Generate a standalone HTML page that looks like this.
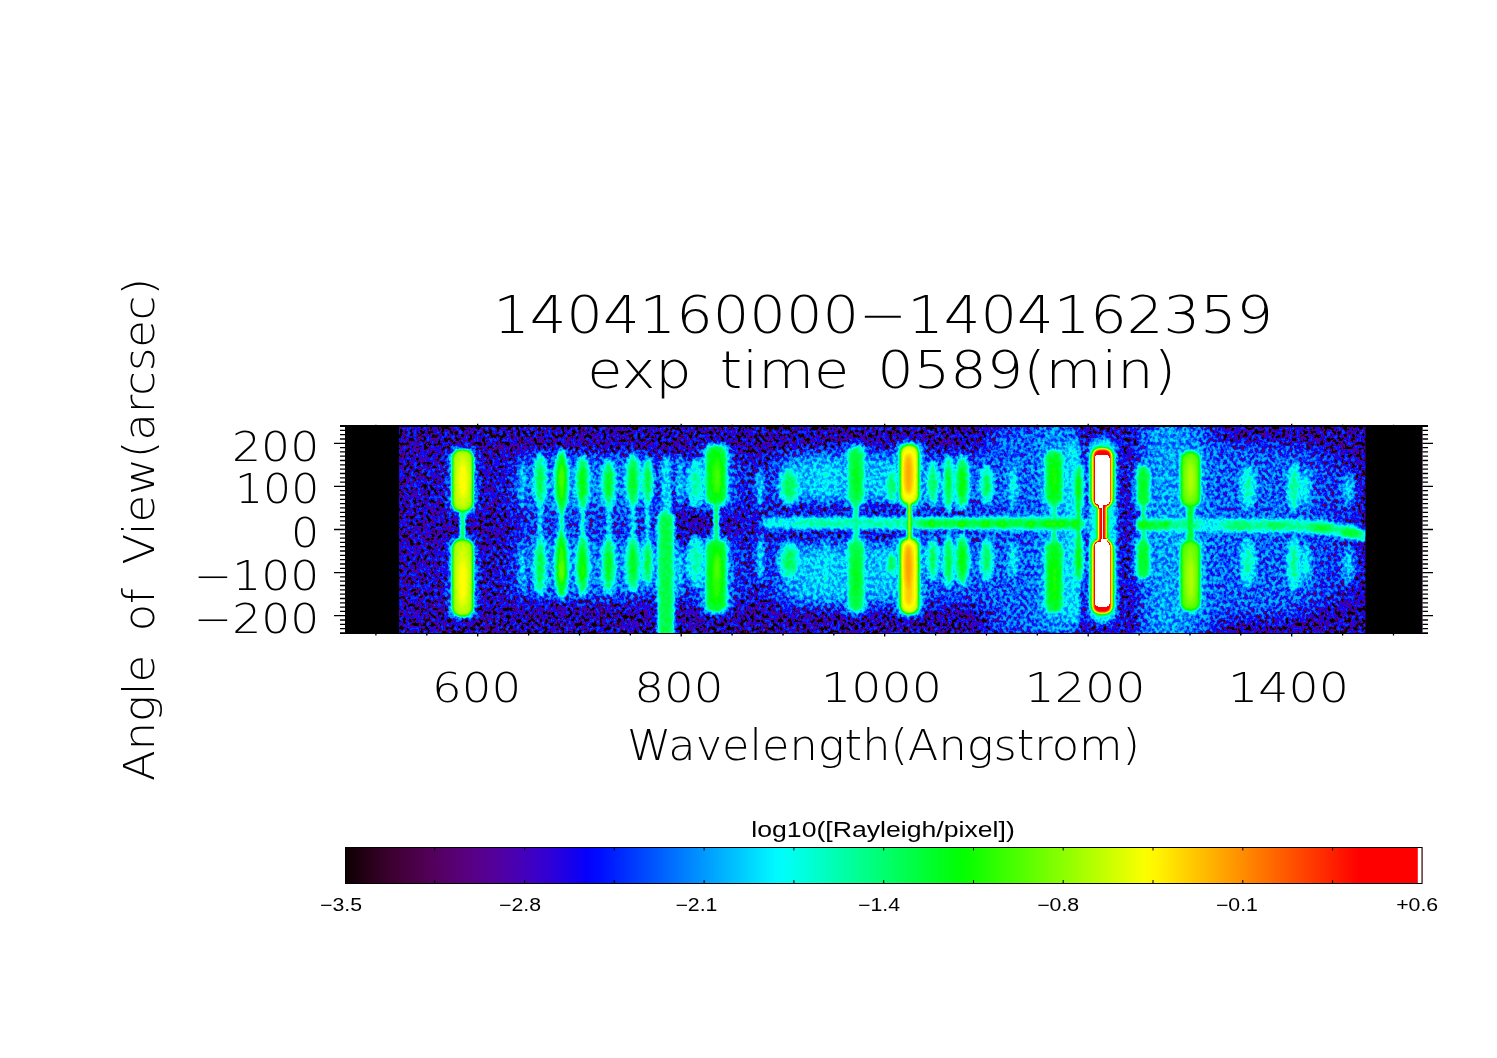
<!DOCTYPE html>
<html lang="en"><head><meta charset="utf-8"><title>1404160000-1404162359</title>
<style>html,body{margin:0;padding:0;background:#fff}svg{display:block}.h{font-family:"DejaVu Sans Light","DejaVu Sans","Liberation Sans",sans-serif;font-weight:200;fill:#000;word-spacing:9px}.s{font-family:"Liberation Sans","DejaVu Sans",sans-serif;fill:#000}</style></head><body>
<svg width="1497" height="1058" viewBox="0 0 1497 1058">
<defs>
<filter id="cm" x="345" y="427" width="1077.5" height="206.3" filterUnits="userSpaceOnUse" color-interpolation-filters="sRGB">
<feTurbulence type="fractalNoise" baseFrequency="0.29 0.26" numOctaves="2" seed="7" result="t"/>
<feColorMatrix in="t" type="matrix" values="3.0 0 0 0 -1.0  3.0 0 0 0 -1.0  3.0 0 0 0 -1.0  0 0 0 0 1" result="n0"/>
<feComponentTransfer in="n0" result="n"><feFuncR type="table" tableValues="0.200 0.250 0.320 0.420 0.520 0.620 0.710 0.790 0.860 0.930 1.000"/><feFuncG type="table" tableValues="0.200 0.250 0.320 0.420 0.520 0.620 0.710 0.790 0.860 0.930 1.000"/><feFuncB type="table" tableValues="0.200 0.250 0.320 0.420 0.520 0.620 0.710 0.790 0.860 0.930 1.000"/></feComponentTransfer>
<feComponentTransfer in="SourceGraphic" result="am"><feFuncR type="table" tableValues="0.3600 0.3574 0.3547 0.3521 0.3494 0.3468 0.3442 0.3416 0.3389 0.3363 0.3337 0.3311 0.3285 0.3259 0.3233 0.3207 0.3181 0.3155 0.3129 0.3103 0.3077 0.3052 0.3026 0.3000 0.2974 0.2949 0.2923 0.2898 0.2872 0.2847 0.2821 0.2796 0.2771 0.2745 0.2720 0.2695 0.2669 0.2644 0.2619 0.2594 0.2569 0.2544 0.2519 0.2494 0.2469 0.2444 0.2420 0.2395 0.2370 0.2346 0.2321 0.2296 0.2272 0.2247 0.2223 0.2198 0.2174 0.2150 0.2125 0.2101 0.2077 0.2053 0.2029 0.2005 0.1981 0.1957 0.1933 0.1909 0.1885 0.1862 0.1838 0.1814 0.1791 0.1767 0.1744 0.1720 0.1697 0.1674 0.1650 0.1627 0.1604 0.1581 0.1558 0.1535 0.1512 0.1489 0.1466 0.1443 0.1421 0.1398 0.1375 0.1353 0.1330 0.1308 0.1286 0.1264 0.1241 0.1219 0.1197 0.1175 0.1153 0.1131 0.1110 0.1088 0.1066 0.1045 0.1023 0.1002 0.0980 0.0959 0.0938 0.0917 0.0896 0.0875 0.0854 0.0833 0.0812 0.0792 0.0771 0.0751 0.0730 0.0710 0.0690 0.0670 0.0650 0.0630 0.0611 0.0591 0.0571 0.0552 0.0533 0.0513 0.0494 0.0475 0.0457 0.0438 0.0419 0.0401 0.0383 0.0364 0.0346 0.0329 0.0311 0.0293 0.0276 0.0259 0.0242 0.0225 0.0209 0.0192 0.0176 0.0160 0.0145 0.0129 0.0114 0.0099 0.0085 0.0071 0.0058 0.0045 0.0032 0.0021 0.0010 0.0001 0.0000 0.0000 0.0000 0.0000 0.0000 0.0000 0.0000 0.0000 0.0000 0.0000 0.0000 0.0000 0.0000 0.0000 0.0000 0.0000 0.0000 0.0000 0.0000 0.0000 0.0000 0.0000 0.0000 0.0000 0.0000 0.0000 0.0000 0.0000 0.0000 0.0000 0.0000 0.0000 0.0000 0.0000 0.0000 0.0000 0.0000 0.0000 0.0000 0.0000 0.0000 0.0000 0.0000 0.0000 0.0000 0.0000 0.0000 0.0000 0.0000 0.0000 0.0000 0.0000 0.0000 0.0000 0.0000 0.0000 0.0000 0.0000 0.0000 0.0000 0.0000 0.0000 0.0000 0.0000 0.0000 0.0000 0.0000 0.0000 0.0000 0.0000 0.0000 0.0000 0.0000 0.0000 0.0000 0.0000 0.0000 0.0000 0.0000 0.0000 0.0000 0.0000 0.0000 0.0000 0.0000 0.0000 0.0000 0.0000 0.0000 0.0000 0.0000 0.0000"/><feFuncG type="table" tableValues="0.3600 0.3574 0.3547 0.3521 0.3494 0.3468 0.3442 0.3416 0.3389 0.3363 0.3337 0.3311 0.3285 0.3259 0.3233 0.3207 0.3181 0.3155 0.3129 0.3103 0.3077 0.3052 0.3026 0.3000 0.2974 0.2949 0.2923 0.2898 0.2872 0.2847 0.2821 0.2796 0.2771 0.2745 0.2720 0.2695 0.2669 0.2644 0.2619 0.2594 0.2569 0.2544 0.2519 0.2494 0.2469 0.2444 0.2420 0.2395 0.2370 0.2346 0.2321 0.2296 0.2272 0.2247 0.2223 0.2198 0.2174 0.2150 0.2125 0.2101 0.2077 0.2053 0.2029 0.2005 0.1981 0.1957 0.1933 0.1909 0.1885 0.1862 0.1838 0.1814 0.1791 0.1767 0.1744 0.1720 0.1697 0.1674 0.1650 0.1627 0.1604 0.1581 0.1558 0.1535 0.1512 0.1489 0.1466 0.1443 0.1421 0.1398 0.1375 0.1353 0.1330 0.1308 0.1286 0.1264 0.1241 0.1219 0.1197 0.1175 0.1153 0.1131 0.1110 0.1088 0.1066 0.1045 0.1023 0.1002 0.0980 0.0959 0.0938 0.0917 0.0896 0.0875 0.0854 0.0833 0.0812 0.0792 0.0771 0.0751 0.0730 0.0710 0.0690 0.0670 0.0650 0.0630 0.0611 0.0591 0.0571 0.0552 0.0533 0.0513 0.0494 0.0475 0.0457 0.0438 0.0419 0.0401 0.0383 0.0364 0.0346 0.0329 0.0311 0.0293 0.0276 0.0259 0.0242 0.0225 0.0209 0.0192 0.0176 0.0160 0.0145 0.0129 0.0114 0.0099 0.0085 0.0071 0.0058 0.0045 0.0032 0.0021 0.0010 0.0001 0.0000 0.0000 0.0000 0.0000 0.0000 0.0000 0.0000 0.0000 0.0000 0.0000 0.0000 0.0000 0.0000 0.0000 0.0000 0.0000 0.0000 0.0000 0.0000 0.0000 0.0000 0.0000 0.0000 0.0000 0.0000 0.0000 0.0000 0.0000 0.0000 0.0000 0.0000 0.0000 0.0000 0.0000 0.0000 0.0000 0.0000 0.0000 0.0000 0.0000 0.0000 0.0000 0.0000 0.0000 0.0000 0.0000 0.0000 0.0000 0.0000 0.0000 0.0000 0.0000 0.0000 0.0000 0.0000 0.0000 0.0000 0.0000 0.0000 0.0000 0.0000 0.0000 0.0000 0.0000 0.0000 0.0000 0.0000 0.0000 0.0000 0.0000 0.0000 0.0000 0.0000 0.0000 0.0000 0.0000 0.0000 0.0000 0.0000 0.0000 0.0000 0.0000 0.0000 0.0000 0.0000 0.0000 0.0000 0.0000 0.0000 0.0000 0.0000 0.0000"/><feFuncB type="table" tableValues="0.3600 0.3574 0.3547 0.3521 0.3494 0.3468 0.3442 0.3416 0.3389 0.3363 0.3337 0.3311 0.3285 0.3259 0.3233 0.3207 0.3181 0.3155 0.3129 0.3103 0.3077 0.3052 0.3026 0.3000 0.2974 0.2949 0.2923 0.2898 0.2872 0.2847 0.2821 0.2796 0.2771 0.2745 0.2720 0.2695 0.2669 0.2644 0.2619 0.2594 0.2569 0.2544 0.2519 0.2494 0.2469 0.2444 0.2420 0.2395 0.2370 0.2346 0.2321 0.2296 0.2272 0.2247 0.2223 0.2198 0.2174 0.2150 0.2125 0.2101 0.2077 0.2053 0.2029 0.2005 0.1981 0.1957 0.1933 0.1909 0.1885 0.1862 0.1838 0.1814 0.1791 0.1767 0.1744 0.1720 0.1697 0.1674 0.1650 0.1627 0.1604 0.1581 0.1558 0.1535 0.1512 0.1489 0.1466 0.1443 0.1421 0.1398 0.1375 0.1353 0.1330 0.1308 0.1286 0.1264 0.1241 0.1219 0.1197 0.1175 0.1153 0.1131 0.1110 0.1088 0.1066 0.1045 0.1023 0.1002 0.0980 0.0959 0.0938 0.0917 0.0896 0.0875 0.0854 0.0833 0.0812 0.0792 0.0771 0.0751 0.0730 0.0710 0.0690 0.0670 0.0650 0.0630 0.0611 0.0591 0.0571 0.0552 0.0533 0.0513 0.0494 0.0475 0.0457 0.0438 0.0419 0.0401 0.0383 0.0364 0.0346 0.0329 0.0311 0.0293 0.0276 0.0259 0.0242 0.0225 0.0209 0.0192 0.0176 0.0160 0.0145 0.0129 0.0114 0.0099 0.0085 0.0071 0.0058 0.0045 0.0032 0.0021 0.0010 0.0001 0.0000 0.0000 0.0000 0.0000 0.0000 0.0000 0.0000 0.0000 0.0000 0.0000 0.0000 0.0000 0.0000 0.0000 0.0000 0.0000 0.0000 0.0000 0.0000 0.0000 0.0000 0.0000 0.0000 0.0000 0.0000 0.0000 0.0000 0.0000 0.0000 0.0000 0.0000 0.0000 0.0000 0.0000 0.0000 0.0000 0.0000 0.0000 0.0000 0.0000 0.0000 0.0000 0.0000 0.0000 0.0000 0.0000 0.0000 0.0000 0.0000 0.0000 0.0000 0.0000 0.0000 0.0000 0.0000 0.0000 0.0000 0.0000 0.0000 0.0000 0.0000 0.0000 0.0000 0.0000 0.0000 0.0000 0.0000 0.0000 0.0000 0.0000 0.0000 0.0000 0.0000 0.0000 0.0000 0.0000 0.0000 0.0000 0.0000 0.0000 0.0000 0.0000 0.0000 0.0000 0.0000 0.0000 0.0000 0.0000 0.0000 0.0000 0.0000 0.0000"/></feComponentTransfer>
<feComponentTransfer in="SourceGraphic" result="ba"><feFuncR type="table" tableValues="0.0000 0.0000 0.0000 0.0000 0.0000 0.0000 0.0000 0.0000 0.0000 0.0000 0.0000 0.0000 0.0000 0.0000 0.0000 0.0000 0.0000 0.0000 0.0000 0.0000 0.0000 0.0000 0.0000 0.0000 0.0000 0.0000 0.0000 0.0000 0.0000 0.0000 0.0000 0.0000 0.0000 0.0000 0.0000 0.0000 0.0000 0.0000 0.0000 0.0000 0.0000 0.0031 0.0085 0.0140 0.0195 0.0249 0.0304 0.0358 0.0413 0.0467 0.0522 0.0576 0.0631 0.0685 0.0739 0.0794 0.0848 0.0902 0.0957 0.1011 0.1065 0.1119 0.1173 0.1228 0.1282 0.1336 0.1390 0.1444 0.1498 0.1552 0.1606 0.1659 0.1713 0.1767 0.1821 0.1875 0.1928 0.1982 0.2036 0.2089 0.2143 0.2196 0.2250 0.2303 0.2357 0.2410 0.2464 0.2517 0.2570 0.2623 0.2677 0.2730 0.2783 0.2836 0.2889 0.2942 0.2995 0.3048 0.3101 0.3154 0.3207 0.3259 0.3312 0.3365 0.3417 0.3470 0.3523 0.3575 0.3627 0.3680 0.3732 0.3785 0.3837 0.3889 0.3941 0.3993 0.4045 0.4097 0.4149 0.4201 0.4253 0.4305 0.4356 0.4408 0.4460 0.4511 0.4563 0.4614 0.4665 0.4717 0.4768 0.4819 0.4870 0.4921 0.4972 0.5023 0.5073 0.5124 0.5175 0.5225 0.5275 0.5326 0.5376 0.5426 0.5476 0.5526 0.5575 0.5625 0.5675 0.5724 0.5773 0.5822 0.5871 0.5920 0.5968 0.6017 0.6065 0.6113 0.6160 0.6208 0.6255 0.6301 0.6347 0.6391 0.6431 0.6471 0.6510 0.6549 0.6588 0.6627 0.6667 0.6706 0.6745 0.6784 0.6824 0.6863 0.6902 0.6941 0.6980 0.7020 0.7059 0.7098 0.7137 0.7176 0.7216 0.7255 0.7294 0.7333 0.7373 0.7412 0.7451 0.7490 0.7529 0.7569 0.7608 0.7647 0.7686 0.7725 0.7765 0.7804 0.7843 0.7882 0.7922 0.7961 0.8000 0.8039 0.8078 0.8118 0.8157 0.8196 0.8235 0.8275 0.8314 0.8353 0.8392 0.8431 0.8471 0.8510 0.8549 0.8588 0.8627 0.8667 0.8706 0.8745 0.8784 0.8824 0.8863 0.8902 0.8941 0.8980 0.9020 0.9059 0.9098 0.9137 0.9176 0.9216 0.9255 0.9294 0.9333 0.9373 0.9412 0.9451 0.9490 0.9529 0.9569 0.9608 0.9647 0.9686 0.9725 0.9765 0.9804 0.9843 0.9882 0.9922 0.9961 1.0000"/><feFuncG type="table" tableValues="0.0000 0.0000 0.0000 0.0000 0.0000 0.0000 0.0000 0.0000 0.0000 0.0000 0.0000 0.0000 0.0000 0.0000 0.0000 0.0000 0.0000 0.0000 0.0000 0.0000 0.0000 0.0000 0.0000 0.0000 0.0000 0.0000 0.0000 0.0000 0.0000 0.0000 0.0000 0.0000 0.0000 0.0000 0.0000 0.0000 0.0000 0.0000 0.0000 0.0000 0.0000 0.0031 0.0085 0.0140 0.0195 0.0249 0.0304 0.0358 0.0413 0.0467 0.0522 0.0576 0.0631 0.0685 0.0739 0.0794 0.0848 0.0902 0.0957 0.1011 0.1065 0.1119 0.1173 0.1228 0.1282 0.1336 0.1390 0.1444 0.1498 0.1552 0.1606 0.1659 0.1713 0.1767 0.1821 0.1875 0.1928 0.1982 0.2036 0.2089 0.2143 0.2196 0.2250 0.2303 0.2357 0.2410 0.2464 0.2517 0.2570 0.2623 0.2677 0.2730 0.2783 0.2836 0.2889 0.2942 0.2995 0.3048 0.3101 0.3154 0.3207 0.3259 0.3312 0.3365 0.3417 0.3470 0.3523 0.3575 0.3627 0.3680 0.3732 0.3785 0.3837 0.3889 0.3941 0.3993 0.4045 0.4097 0.4149 0.4201 0.4253 0.4305 0.4356 0.4408 0.4460 0.4511 0.4563 0.4614 0.4665 0.4717 0.4768 0.4819 0.4870 0.4921 0.4972 0.5023 0.5073 0.5124 0.5175 0.5225 0.5275 0.5326 0.5376 0.5426 0.5476 0.5526 0.5575 0.5625 0.5675 0.5724 0.5773 0.5822 0.5871 0.5920 0.5968 0.6017 0.6065 0.6113 0.6160 0.6208 0.6255 0.6301 0.6347 0.6391 0.6431 0.6471 0.6510 0.6549 0.6588 0.6627 0.6667 0.6706 0.6745 0.6784 0.6824 0.6863 0.6902 0.6941 0.6980 0.7020 0.7059 0.7098 0.7137 0.7176 0.7216 0.7255 0.7294 0.7333 0.7373 0.7412 0.7451 0.7490 0.7529 0.7569 0.7608 0.7647 0.7686 0.7725 0.7765 0.7804 0.7843 0.7882 0.7922 0.7961 0.8000 0.8039 0.8078 0.8118 0.8157 0.8196 0.8235 0.8275 0.8314 0.8353 0.8392 0.8431 0.8471 0.8510 0.8549 0.8588 0.8627 0.8667 0.8706 0.8745 0.8784 0.8824 0.8863 0.8902 0.8941 0.8980 0.9020 0.9059 0.9098 0.9137 0.9176 0.9216 0.9255 0.9294 0.9333 0.9373 0.9412 0.9451 0.9490 0.9529 0.9569 0.9608 0.9647 0.9686 0.9725 0.9765 0.9804 0.9843 0.9882 0.9922 0.9961 1.0000"/><feFuncB type="table" tableValues="0.0000 0.0000 0.0000 0.0000 0.0000 0.0000 0.0000 0.0000 0.0000 0.0000 0.0000 0.0000 0.0000 0.0000 0.0000 0.0000 0.0000 0.0000 0.0000 0.0000 0.0000 0.0000 0.0000 0.0000 0.0000 0.0000 0.0000 0.0000 0.0000 0.0000 0.0000 0.0000 0.0000 0.0000 0.0000 0.0000 0.0000 0.0000 0.0000 0.0000 0.0000 0.0031 0.0085 0.0140 0.0195 0.0249 0.0304 0.0358 0.0413 0.0467 0.0522 0.0576 0.0631 0.0685 0.0739 0.0794 0.0848 0.0902 0.0957 0.1011 0.1065 0.1119 0.1173 0.1228 0.1282 0.1336 0.1390 0.1444 0.1498 0.1552 0.1606 0.1659 0.1713 0.1767 0.1821 0.1875 0.1928 0.1982 0.2036 0.2089 0.2143 0.2196 0.2250 0.2303 0.2357 0.2410 0.2464 0.2517 0.2570 0.2623 0.2677 0.2730 0.2783 0.2836 0.2889 0.2942 0.2995 0.3048 0.3101 0.3154 0.3207 0.3259 0.3312 0.3365 0.3417 0.3470 0.3523 0.3575 0.3627 0.3680 0.3732 0.3785 0.3837 0.3889 0.3941 0.3993 0.4045 0.4097 0.4149 0.4201 0.4253 0.4305 0.4356 0.4408 0.4460 0.4511 0.4563 0.4614 0.4665 0.4717 0.4768 0.4819 0.4870 0.4921 0.4972 0.5023 0.5073 0.5124 0.5175 0.5225 0.5275 0.5326 0.5376 0.5426 0.5476 0.5526 0.5575 0.5625 0.5675 0.5724 0.5773 0.5822 0.5871 0.5920 0.5968 0.6017 0.6065 0.6113 0.6160 0.6208 0.6255 0.6301 0.6347 0.6391 0.6431 0.6471 0.6510 0.6549 0.6588 0.6627 0.6667 0.6706 0.6745 0.6784 0.6824 0.6863 0.6902 0.6941 0.6980 0.7020 0.7059 0.7098 0.7137 0.7176 0.7216 0.7255 0.7294 0.7333 0.7373 0.7412 0.7451 0.7490 0.7529 0.7569 0.7608 0.7647 0.7686 0.7725 0.7765 0.7804 0.7843 0.7882 0.7922 0.7961 0.8000 0.8039 0.8078 0.8118 0.8157 0.8196 0.8235 0.8275 0.8314 0.8353 0.8392 0.8431 0.8471 0.8510 0.8549 0.8588 0.8627 0.8667 0.8706 0.8745 0.8784 0.8824 0.8863 0.8902 0.8941 0.8980 0.9020 0.9059 0.9098 0.9137 0.9176 0.9216 0.9255 0.9294 0.9333 0.9373 0.9412 0.9451 0.9490 0.9529 0.9569 0.9608 0.9647 0.9686 0.9725 0.9765 0.9804 0.9843 0.9882 0.9922 0.9961 1.0000"/></feComponentTransfer>
<feComponentTransfer in="SourceGraphic" result="zb"><feFuncR type="table" tableValues="0.0000 0.0000 0.0000 0.0000 0.0000 0.0000 0.0000 0.0000 0.0000 0.0000 0.0000 0.0000 0.0000 0.0000 0.0000 0.0000 0.0000 0.0000 0.0000 0.0000 0.0000 0.0000 0.0000 0.0000 0.0000 0.0000 0.0000 0.0000 0.0000 0.0000 0.0000 0.0090 0.0179 0.0269 0.0359 0.0448 0.0538 0.0628 0.0717 0.0807 0.0897 0.0986 0.1076 0.1166 0.1255 0.1345 0.1434 0.1524 0.1614 0.1703 0.1793 0.1883 0.1972 0.2062 0.2152 0.2241 0.2331 0.2421 0.2510 0.2600 0.2690 0.2779 0.2869 0.2959 0.3048 0.3138 0.3228 0.3317 0.3407 0.3497 0.3586 0.3676 0.3766 0.3855 0.3945 0.4034 0.4124 0.4214 0.4303 0.4393 0.4483 0.4572 0.4662 0.4752 0.4841 0.4931 0.5021 0.5110 0.5200 0.5200 0.5200 0.5200 0.5200 0.5200 0.5200 0.5200 0.5200 0.5200 0.5200 0.5200 0.5200 0.5200 0.5200 0.5200 0.5200 0.5200 0.5200 0.5200 0.5200 0.5200 0.5200 0.5200 0.5200 0.5200 0.5200 0.5200 0.5200 0.5200 0.5200 0.5200 0.5200 0.5200 0.5200 0.5200 0.5200 0.5200 0.5200 0.5200 0.5200 0.5200 0.5200 0.5200 0.5200 0.5200 0.5200 0.5200 0.5200 0.5200 0.5200 0.5200 0.5200 0.5200 0.5200 0.5200 0.5200 0.5200 0.5200 0.5200 0.5200 0.5200 0.5200 0.5200 0.5200 0.5200 0.5200 0.5200 0.5200 0.5200 0.5200 0.5200 0.5200 0.5200 0.5200 0.5200 0.5200 0.5200 0.5200 0.5200 0.5200 0.5200 0.5200 0.5200 0.5200 0.5200 0.5200 0.5200 0.5200 0.5200 0.5200 0.5200 0.5200 0.5200 0.5200 0.5200 0.5200 0.5200 0.5200 0.5200 0.5200 0.5200 0.5200 0.5200 0.5200 0.5200 0.5200 0.5200 0.5200 0.5200 0.5200 0.5200 0.5200 0.5200 0.5200 0.5200 0.5200 0.5200 0.5200 0.5200 0.5200 0.5200 0.5200 0.5200 0.5200 0.5200 0.5200 0.5200 0.5200 0.5200 0.5200 0.5200 0.5200 0.5200 0.5200 0.5200 0.5200 0.5200 0.5200 0.5200 0.5200 0.5200 0.5200 0.5200 0.5200 0.5200 0.5200 0.5200 0.5200 0.5200 0.5200 0.5200 0.5200 0.5200 0.5200 0.5200 0.5200 0.5200 0.5200 0.5200 0.5200 0.5200 0.5200 0.5200 0.5200 0.5200 0.5200 0.5200"/><feFuncG type="table" tableValues="0.0000 0.0000 0.0000 0.0000 0.0000 0.0000 0.0000 0.0000 0.0000 0.0000 0.0000 0.0000 0.0000 0.0000 0.0000 0.0000 0.0000 0.0000 0.0000 0.0000 0.0000 0.0000 0.0000 0.0000 0.0000 0.0000 0.0000 0.0000 0.0000 0.0000 0.0000 0.0090 0.0179 0.0269 0.0359 0.0448 0.0538 0.0628 0.0717 0.0807 0.0897 0.0986 0.1076 0.1166 0.1255 0.1345 0.1434 0.1524 0.1614 0.1703 0.1793 0.1883 0.1972 0.2062 0.2152 0.2241 0.2331 0.2421 0.2510 0.2600 0.2690 0.2779 0.2869 0.2959 0.3048 0.3138 0.3228 0.3317 0.3407 0.3497 0.3586 0.3676 0.3766 0.3855 0.3945 0.4034 0.4124 0.4214 0.4303 0.4393 0.4483 0.4572 0.4662 0.4752 0.4841 0.4931 0.5021 0.5110 0.5200 0.5200 0.5200 0.5200 0.5200 0.5200 0.5200 0.5200 0.5200 0.5200 0.5200 0.5200 0.5200 0.5200 0.5200 0.5200 0.5200 0.5200 0.5200 0.5200 0.5200 0.5200 0.5200 0.5200 0.5200 0.5200 0.5200 0.5200 0.5200 0.5200 0.5200 0.5200 0.5200 0.5200 0.5200 0.5200 0.5200 0.5200 0.5200 0.5200 0.5200 0.5200 0.5200 0.5200 0.5200 0.5200 0.5200 0.5200 0.5200 0.5200 0.5200 0.5200 0.5200 0.5200 0.5200 0.5200 0.5200 0.5200 0.5200 0.5200 0.5200 0.5200 0.5200 0.5200 0.5200 0.5200 0.5200 0.5200 0.5200 0.5200 0.5200 0.5200 0.5200 0.5200 0.5200 0.5200 0.5200 0.5200 0.5200 0.5200 0.5200 0.5200 0.5200 0.5200 0.5200 0.5200 0.5200 0.5200 0.5200 0.5200 0.5200 0.5200 0.5200 0.5200 0.5200 0.5200 0.5200 0.5200 0.5200 0.5200 0.5200 0.5200 0.5200 0.5200 0.5200 0.5200 0.5200 0.5200 0.5200 0.5200 0.5200 0.5200 0.5200 0.5200 0.5200 0.5200 0.5200 0.5200 0.5200 0.5200 0.5200 0.5200 0.5200 0.5200 0.5200 0.5200 0.5200 0.5200 0.5200 0.5200 0.5200 0.5200 0.5200 0.5200 0.5200 0.5200 0.5200 0.5200 0.5200 0.5200 0.5200 0.5200 0.5200 0.5200 0.5200 0.5200 0.5200 0.5200 0.5200 0.5200 0.5200 0.5200 0.5200 0.5200 0.5200 0.5200 0.5200 0.5200 0.5200 0.5200 0.5200 0.5200 0.5200 0.5200 0.5200 0.5200 0.5200 0.5200"/><feFuncB type="table" tableValues="0.0000 0.0000 0.0000 0.0000 0.0000 0.0000 0.0000 0.0000 0.0000 0.0000 0.0000 0.0000 0.0000 0.0000 0.0000 0.0000 0.0000 0.0000 0.0000 0.0000 0.0000 0.0000 0.0000 0.0000 0.0000 0.0000 0.0000 0.0000 0.0000 0.0000 0.0000 0.0090 0.0179 0.0269 0.0359 0.0448 0.0538 0.0628 0.0717 0.0807 0.0897 0.0986 0.1076 0.1166 0.1255 0.1345 0.1434 0.1524 0.1614 0.1703 0.1793 0.1883 0.1972 0.2062 0.2152 0.2241 0.2331 0.2421 0.2510 0.2600 0.2690 0.2779 0.2869 0.2959 0.3048 0.3138 0.3228 0.3317 0.3407 0.3497 0.3586 0.3676 0.3766 0.3855 0.3945 0.4034 0.4124 0.4214 0.4303 0.4393 0.4483 0.4572 0.4662 0.4752 0.4841 0.4931 0.5021 0.5110 0.5200 0.5200 0.5200 0.5200 0.5200 0.5200 0.5200 0.5200 0.5200 0.5200 0.5200 0.5200 0.5200 0.5200 0.5200 0.5200 0.5200 0.5200 0.5200 0.5200 0.5200 0.5200 0.5200 0.5200 0.5200 0.5200 0.5200 0.5200 0.5200 0.5200 0.5200 0.5200 0.5200 0.5200 0.5200 0.5200 0.5200 0.5200 0.5200 0.5200 0.5200 0.5200 0.5200 0.5200 0.5200 0.5200 0.5200 0.5200 0.5200 0.5200 0.5200 0.5200 0.5200 0.5200 0.5200 0.5200 0.5200 0.5200 0.5200 0.5200 0.5200 0.5200 0.5200 0.5200 0.5200 0.5200 0.5200 0.5200 0.5200 0.5200 0.5200 0.5200 0.5200 0.5200 0.5200 0.5200 0.5200 0.5200 0.5200 0.5200 0.5200 0.5200 0.5200 0.5200 0.5200 0.5200 0.5200 0.5200 0.5200 0.5200 0.5200 0.5200 0.5200 0.5200 0.5200 0.5200 0.5200 0.5200 0.5200 0.5200 0.5200 0.5200 0.5200 0.5200 0.5200 0.5200 0.5200 0.5200 0.5200 0.5200 0.5200 0.5200 0.5200 0.5200 0.5200 0.5200 0.5200 0.5200 0.5200 0.5200 0.5200 0.5200 0.5200 0.5200 0.5200 0.5200 0.5200 0.5200 0.5200 0.5200 0.5200 0.5200 0.5200 0.5200 0.5200 0.5200 0.5200 0.5200 0.5200 0.5200 0.5200 0.5200 0.5200 0.5200 0.5200 0.5200 0.5200 0.5200 0.5200 0.5200 0.5200 0.5200 0.5200 0.5200 0.5200 0.5200 0.5200 0.5200 0.5200 0.5200 0.5200 0.5200 0.5200 0.5200 0.5200 0.5200 0.5200 0.5200"/></feComponentTransfer>
<feComposite in="n0" in2="zb" operator="arithmetic" k1="0" k2="1" k3="1" k4="0" result="zs"/>
<feComponentTransfer in="zs" result="mk"><feFuncR type="table" tableValues="0.000 0.000 0.000 0.000 0.000 0.000 0.000 0.000 0.000 0.000 0.042 0.146 0.250 0.354 0.458 0.563 0.667 0.771 0.875 0.979 1.000 1.000 1.000 1.000 1.000 1.000 1.000 1.000 1.000 1.000 1.000 1.000 1.000 1.000 1.000 1.000 1.000 1.000 1.000 1.000 1.000"/><feFuncG type="table" tableValues="0.000 0.000 0.000 0.000 0.000 0.000 0.000 0.000 0.000 0.000 0.042 0.146 0.250 0.354 0.458 0.563 0.667 0.771 0.875 0.979 1.000 1.000 1.000 1.000 1.000 1.000 1.000 1.000 1.000 1.000 1.000 1.000 1.000 1.000 1.000 1.000 1.000 1.000 1.000 1.000 1.000"/><feFuncB type="table" tableValues="0.000 0.000 0.000 0.000 0.000 0.000 0.000 0.000 0.000 0.000 0.042 0.146 0.250 0.354 0.458 0.563 0.667 0.771 0.875 0.979 1.000 1.000 1.000 1.000 1.000 1.000 1.000 1.000 1.000 1.000 1.000 1.000 1.000 1.000 1.000 1.000 1.000 1.000 1.000 1.000 1.000"/></feComponentTransfer>
<feComposite in="am" in2="n" operator="arithmetic" k1="1" k2="0" k3="0" k4="0" result="p"/>
<feComposite in="ba" in2="p" operator="arithmetic" k1="0" k2="1" k3="1" k4="0" result="v0"/>
<feComposite in="v0" in2="mk" operator="arithmetic" k1="1" k2="0" k3="0" k4="0" result="v"/>
<feComponentTransfer in="v">
<feFuncR type="table" tableValues="0.043 0.067 0.086 0.106 0.125 0.141 0.161 0.176 0.192 0.208 0.220 0.235 0.247 0.259 0.271 0.278 0.290 0.298 0.306 0.314 0.322 0.325 0.329 0.337 0.337 0.341 0.345 0.345 0.345 0.345 0.345 0.341 0.337 0.337 0.329 0.325 0.322 0.314 0.306 0.298 0.290 0.278 0.271 0.259 0.247 0.235 0.220 0.208 0.192 0.176 0.161 0.141 0.125 0.106 0.086 0.067 0.043 0.024 0.000 0.000 0.000 0.000 0.000 0.000 0.000 0.000 0.000 0.000 0.000 0.000 0.000 0.000 0.000 0.000 0.000 0.000 0.000 0.000 0.000 0.000 0.000 0.000 0.000 0.000 0.000 0.000 0.000 0.000 0.000 0.000 0.000 0.000 0.000 0.000 0.000 0.000 0.000 0.000 0.000 0.000 0.000 0.000 0.000 0.000 0.000 0.000 0.000 0.000 0.000 0.000 0.000 0.000 0.000 0.000 0.000 0.000 0.000 0.000 0.000 0.000 0.000 0.000 0.000 0.000 0.000 0.000 0.000 0.000 0.000 0.000 0.000 0.000 0.000 0.000 0.000 0.000 0.000 0.000 0.000 0.000 0.000 0.000 0.000 0.000 0.000 0.000 0.000 0.024 0.047 0.067 0.090 0.114 0.137 0.161 0.180 0.204 0.227 0.251 0.275 0.294 0.318 0.341 0.365 0.388 0.408 0.431 0.455 0.478 0.502 0.522 0.545 0.569 0.592 0.612 0.635 0.659 0.682 0.706 0.725 0.749 0.773 0.796 0.820 0.839 0.863 0.886 0.910 0.933 0.953 0.976 1.000 1.000 1.000 1.000 1.000 1.000 1.000 1.000 1.000 1.000 1.000 1.000 1.000 1.000 1.000 1.000 1.000 1.000 1.000 1.000 1.000 1.000 1.000 1.000 1.000 1.000 1.000 1.000 1.000 1.000 1.000 1.000 1.000 1.000 1.000 1.000 1.000 1.000 1.000 1.000 1.000 1.000 1.000 1.000 1.000 1.000 1.000 1.000 1.000 1.000 1.000 1.000 1.000 1.000 1.000 1.000 1.000 1.000 1.000 1.000 1.000 1.000 1.000 1.000 1.000 1.000"/>
<feFuncG type="table" tableValues="0.000 0.000 0.000 0.000 0.000 0.000 0.000 0.000 0.000 0.000 0.000 0.000 0.000 0.000 0.000 0.000 0.000 0.000 0.000 0.000 0.000 0.000 0.000 0.000 0.000 0.000 0.000 0.000 0.000 0.000 0.000 0.000 0.000 0.000 0.000 0.000 0.000 0.000 0.000 0.000 0.000 0.000 0.000 0.000 0.000 0.000 0.000 0.000 0.000 0.000 0.000 0.000 0.000 0.000 0.000 0.000 0.000 0.000 0.000 0.024 0.043 0.067 0.090 0.110 0.133 0.157 0.176 0.200 0.224 0.243 0.267 0.290 0.310 0.333 0.357 0.376 0.400 0.424 0.443 0.467 0.490 0.510 0.533 0.557 0.576 0.600 0.624 0.643 0.667 0.690 0.710 0.733 0.757 0.776 0.800 0.824 0.843 0.867 0.890 0.910 0.933 0.957 0.976 1.000 1.000 1.000 1.000 1.000 1.000 1.000 1.000 1.000 1.000 1.000 1.000 1.000 1.000 1.000 1.000 1.000 1.000 1.000 1.000 1.000 1.000 1.000 1.000 1.000 1.000 1.000 1.000 1.000 1.000 1.000 1.000 1.000 1.000 1.000 1.000 1.000 1.000 1.000 1.000 1.000 1.000 1.000 1.000 1.000 1.000 1.000 1.000 1.000 1.000 1.000 1.000 1.000 1.000 1.000 1.000 1.000 1.000 1.000 1.000 1.000 1.000 1.000 1.000 1.000 1.000 1.000 1.000 1.000 1.000 1.000 1.000 1.000 1.000 1.000 1.000 1.000 1.000 1.000 1.000 1.000 1.000 1.000 1.000 1.000 1.000 1.000 1.000 0.980 0.961 0.941 0.922 0.902 0.878 0.859 0.839 0.820 0.800 0.780 0.761 0.741 0.722 0.698 0.678 0.659 0.639 0.620 0.600 0.580 0.561 0.541 0.522 0.502 0.478 0.459 0.439 0.420 0.400 0.380 0.361 0.341 0.322 0.298 0.278 0.259 0.239 0.220 0.200 0.180 0.161 0.141 0.122 0.102 0.078 0.059 0.039 0.020 0.000 0.000 0.000 0.000 0.000 0.000 0.000 0.000 0.000 0.000 0.000 0.000 0.000 0.000 0.000 1.000"/>
<feFuncB type="table" tableValues="0.000 0.016 0.035 0.051 0.071 0.086 0.102 0.122 0.137 0.157 0.173 0.188 0.208 0.224 0.243 0.259 0.275 0.294 0.310 0.329 0.345 0.361 0.380 0.396 0.416 0.431 0.447 0.467 0.482 0.502 0.518 0.533 0.553 0.569 0.584 0.604 0.620 0.639 0.655 0.671 0.690 0.706 0.725 0.741 0.757 0.776 0.792 0.812 0.827 0.843 0.863 0.878 0.898 0.914 0.929 0.949 0.965 0.984 1.000 1.000 1.000 1.000 1.000 1.000 1.000 1.000 1.000 1.000 1.000 1.000 1.000 1.000 1.000 1.000 1.000 1.000 1.000 1.000 1.000 1.000 1.000 1.000 1.000 1.000 1.000 1.000 1.000 1.000 1.000 1.000 1.000 1.000 1.000 1.000 1.000 1.000 1.000 1.000 1.000 1.000 1.000 1.000 1.000 1.000 0.976 0.953 0.929 0.906 0.882 0.859 0.835 0.816 0.792 0.769 0.745 0.722 0.698 0.675 0.651 0.627 0.604 0.580 0.557 0.533 0.510 0.490 0.467 0.443 0.420 0.396 0.373 0.349 0.325 0.302 0.278 0.255 0.231 0.208 0.184 0.165 0.141 0.118 0.094 0.071 0.047 0.024 0.000 0.000 0.000 0.000 0.000 0.000 0.000 0.000 0.000 0.000 0.000 0.000 0.000 0.000 0.000 0.000 0.000 0.000 0.000 0.000 0.000 0.000 0.000 0.000 0.000 0.000 0.000 0.000 0.000 0.000 0.000 0.000 0.000 0.000 0.000 0.000 0.000 0.000 0.000 0.000 0.000 0.000 0.000 0.000 0.000 0.000 0.000 0.000 0.000 0.000 0.000 0.000 0.000 0.000 0.000 0.000 0.000 0.000 0.000 0.000 0.000 0.000 0.000 0.000 0.000 0.000 0.000 0.000 0.000 0.000 0.000 0.000 0.000 0.000 0.000 0.000 0.000 0.000 0.000 0.000 0.000 0.000 0.000 0.000 0.000 0.000 0.000 0.000 0.000 0.000 0.000 0.000 0.000 0.000 0.000 0.000 0.000 0.000 0.000 0.000 0.000 0.000 0.000 0.000 0.000 0.000 0.000 0.000 0.000 1.000"/>
<feFuncA type="linear" slope="0" intercept="1"/>
</feComponentTransfer></filter>
<filter id="b05" x="305" y="387" width="1157.5" height="286.3" filterUnits="userSpaceOnUse" color-interpolation-filters="sRGB"><feGaussianBlur stdDeviation="0.5"/></filter>
<filter id="b1" x="305" y="387" width="1157.5" height="286.3" filterUnits="userSpaceOnUse" color-interpolation-filters="sRGB"><feGaussianBlur stdDeviation="1.1"/></filter>
<filter id="b15" x="305" y="387" width="1157.5" height="286.3" filterUnits="userSpaceOnUse" color-interpolation-filters="sRGB"><feGaussianBlur stdDeviation="1.5"/></filter>
<filter id="b2" x="305" y="387" width="1157.5" height="286.3" filterUnits="userSpaceOnUse" color-interpolation-filters="sRGB"><feGaussianBlur stdDeviation="2"/></filter>
<filter id="b3" x="305" y="387" width="1157.5" height="286.3" filterUnits="userSpaceOnUse" color-interpolation-filters="sRGB"><feGaussianBlur stdDeviation="3.2"/></filter>
<filter id="b6" x="305" y="387" width="1157.5" height="286.3" filterUnits="userSpaceOnUse" color-interpolation-filters="sRGB"><feGaussianBlur stdDeviation="6"/></filter>
<filter id="b12" x="305" y="387" width="1157.5" height="286.3" filterUnits="userSpaceOnUse" color-interpolation-filters="sRGB"><feGaussianBlur stdDeviation="12 9"/></filter>
<linearGradient id="cb" x1="0" y1="0" x2="1" y2="0">
<stop offset="0.0000" stop-color="#0b0000"/>
<stop offset="0.0118" stop-color="#1b000d"/>
<stop offset="0.0235" stop-color="#29001a"/>
<stop offset="0.0353" stop-color="#350028"/>
<stop offset="0.0471" stop-color="#3f0035"/>
<stop offset="0.0588" stop-color="#470042"/>
<stop offset="0.0706" stop-color="#4e004f"/>
<stop offset="0.0824" stop-color="#53005c"/>
<stop offset="0.0941" stop-color="#56006a"/>
<stop offset="0.1059" stop-color="#580077"/>
<stop offset="0.1176" stop-color="#580084"/>
<stop offset="0.1294" stop-color="#560091"/>
<stop offset="0.1412" stop-color="#52009e"/>
<stop offset="0.1529" stop-color="#4c00ab"/>
<stop offset="0.1647" stop-color="#4500b9"/>
<stop offset="0.1765" stop-color="#3c00c6"/>
<stop offset="0.1882" stop-color="#3100d3"/>
<stop offset="0.2000" stop-color="#2400e0"/>
<stop offset="0.2118" stop-color="#1600ed"/>
<stop offset="0.2235" stop-color="#0600fb"/>
<stop offset="0.2353" stop-color="#000bff"/>
<stop offset="0.2471" stop-color="#001cff"/>
<stop offset="0.2588" stop-color="#002dff"/>
<stop offset="0.2706" stop-color="#003eff"/>
<stop offset="0.2824" stop-color="#004fff"/>
<stop offset="0.2941" stop-color="#0060ff"/>
<stop offset="0.3059" stop-color="#0071ff"/>
<stop offset="0.3176" stop-color="#0082ff"/>
<stop offset="0.3294" stop-color="#0093ff"/>
<stop offset="0.3412" stop-color="#00a4ff"/>
<stop offset="0.3529" stop-color="#00b5ff"/>
<stop offset="0.3647" stop-color="#00c6ff"/>
<stop offset="0.3765" stop-color="#00d7ff"/>
<stop offset="0.3882" stop-color="#00e8ff"/>
<stop offset="0.4000" stop-color="#00f9ff"/>
<stop offset="0.4118" stop-color="#00fff3"/>
<stop offset="0.4235" stop-color="#00ffe1"/>
<stop offset="0.4353" stop-color="#00ffd0"/>
<stop offset="0.4471" stop-color="#00ffbe"/>
<stop offset="0.4588" stop-color="#00ffac"/>
<stop offset="0.4706" stop-color="#00ff9a"/>
<stop offset="0.4824" stop-color="#00ff88"/>
<stop offset="0.4941" stop-color="#00ff77"/>
<stop offset="0.5059" stop-color="#00ff65"/>
<stop offset="0.5176" stop-color="#00ff53"/>
<stop offset="0.5294" stop-color="#00ff41"/>
<stop offset="0.5412" stop-color="#00ff2f"/>
<stop offset="0.5529" stop-color="#00ff1e"/>
<stop offset="0.5647" stop-color="#00ff0c"/>
<stop offset="0.5765" stop-color="#06ff00"/>
<stop offset="0.5882" stop-color="#17ff00"/>
<stop offset="0.6000" stop-color="#29ff00"/>
<stop offset="0.6118" stop-color="#3aff00"/>
<stop offset="0.6235" stop-color="#4bff00"/>
<stop offset="0.6353" stop-color="#5dff00"/>
<stop offset="0.6471" stop-color="#6eff00"/>
<stop offset="0.6588" stop-color="#80ff00"/>
<stop offset="0.6706" stop-color="#91ff00"/>
<stop offset="0.6824" stop-color="#a2ff00"/>
<stop offset="0.6941" stop-color="#b4ff00"/>
<stop offset="0.7059" stop-color="#c5ff00"/>
<stop offset="0.7176" stop-color="#d6ff00"/>
<stop offset="0.7294" stop-color="#e8ff00"/>
<stop offset="0.7412" stop-color="#f9ff00"/>
<stop offset="0.7529" stop-color="#fff500"/>
<stop offset="0.7647" stop-color="#ffe600"/>
<stop offset="0.7765" stop-color="#ffd600"/>
<stop offset="0.7882" stop-color="#ffc700"/>
<stop offset="0.8000" stop-color="#ffb800"/>
<stop offset="0.8118" stop-color="#ffa800"/>
<stop offset="0.8235" stop-color="#ff9900"/>
<stop offset="0.8353" stop-color="#ff8a00"/>
<stop offset="0.8471" stop-color="#ff7a00"/>
<stop offset="0.8588" stop-color="#ff6b00"/>
<stop offset="0.8706" stop-color="#ff5c00"/>
<stop offset="0.8824" stop-color="#ff4c00"/>
<stop offset="0.8941" stop-color="#ff3d00"/>
<stop offset="0.9059" stop-color="#ff2e00"/>
<stop offset="0.9176" stop-color="#ff1f00"/>
<stop offset="0.9294" stop-color="#ff0f00"/>
<stop offset="0.9412" stop-color="#ff0000"/>
<stop offset="0.9529" stop-color="#ff0000"/>
<stop offset="0.9647" stop-color="#ff0000"/>
<stop offset="0.9765" stop-color="#ff0000"/>
<stop offset="0.9882" stop-color="#ff0000"/>
<stop offset="0.9957" stop-color="#ff0000"/>
</linearGradient>
<clipPath id="cp"><rect x="345" y="427" width="1077.5" height="206.3"/></clipPath>
</defs>
<rect x="0" y="0" width="1497" height="1058" fill="#fff"/>
<g clip-path="url(#cp)"><g filter="url(#cm)">
<rect x="345" y="427" width="1077.5" height="206.3" fill="#212121"/>
<g filter="url(#b12)">
<rect x="399.0" y="446.0" width="966.0" height="168.0" rx="8.0" fill="#2a2a2a" style="mix-blend-mode:lighten"/>
<rect x="399.0" y="436.0" width="17.0" height="188.0" rx="8.0" fill="#343434" style="mix-blend-mode:lighten"/>
<rect x="425.0" y="452.0" width="95.0" height="56.0" rx="8.0" fill="#313131" style="mix-blend-mode:lighten"/>
<rect x="425.0" y="545.0" width="95.0" height="63.0" rx="8.0" fill="#313131" style="mix-blend-mode:lighten"/>
<rect x="515.0" y="450.0" width="145.0" height="154.0" rx="8.0" fill="#444444" style="mix-blend-mode:lighten"/>
<rect x="515.0" y="455.0" width="145.0" height="53.0" rx="8.0" fill="#525252" style="mix-blend-mode:lighten"/>
<rect x="515.0" y="540.0" width="145.0" height="58.0" rx="8.0" fill="#525252" style="mix-blend-mode:lighten"/>
<rect x="680.0" y="450.0" width="60.0" height="60.0" rx="8.0" fill="#4a4a4a" style="mix-blend-mode:lighten"/>
<rect x="680.0" y="540.0" width="60.0" height="70.0" rx="8.0" fill="#4a4a4a" style="mix-blend-mode:lighten"/>
<rect x="740.0" y="460.0" width="40.0" height="140.0" rx="8.0" fill="#383838" style="mix-blend-mode:lighten"/>
<rect x="775.0" y="450.0" width="130.0" height="56.0" rx="8.0" fill="#575757" style="mix-blend-mode:lighten"/>
<rect x="775.0" y="540.0" width="130.0" height="68.0" rx="8.0" fill="#575757" style="mix-blend-mode:lighten"/>
<rect x="862.0" y="452.0" width="38.0" height="52.0" rx="8.0" fill="#5f5f5f" style="mix-blend-mode:lighten"/>
<rect x="862.0" y="542.0" width="38.0" height="62.0" rx="8.0" fill="#5f5f5f" style="mix-blend-mode:lighten"/>
<rect x="800.0" y="452.0" width="50.0" height="54.0" rx="8.0" fill="#606060" style="mix-blend-mode:lighten"/>
<rect x="800.0" y="540.0" width="50.0" height="68.0" rx="8.0" fill="#606060" style="mix-blend-mode:lighten"/>
<rect x="870.0" y="450.0" width="130.0" height="58.0" rx="8.0" fill="#4c4c4c" style="mix-blend-mode:lighten"/>
<rect x="870.0" y="538.0" width="130.0" height="68.0" rx="8.0" fill="#4c4c4c" style="mix-blend-mode:lighten"/>
<rect x="985.0" y="420.0" width="98.0" height="220.0" rx="8.0" fill="#4c4c4c" style="mix-blend-mode:lighten"/>
<rect x="1040.0" y="415.0" width="43.0" height="231.0" rx="8.0" fill="#565656" style="mix-blend-mode:lighten"/>
<rect x="1135.0" y="415.0" width="80.0" height="231.0" rx="8.0" fill="#505050" style="mix-blend-mode:lighten"/>
<rect x="1135.0" y="415.0" width="55.0" height="231.0" rx="8.0" fill="#575757" style="mix-blend-mode:lighten"/>
<rect x="1200.0" y="440.0" width="100.0" height="182.0" rx="8.0" fill="#4c4c4c" style="mix-blend-mode:lighten"/>
<rect x="1205.0" y="446.0" width="125.0" height="168.0" rx="8.0" fill="#484848" style="mix-blend-mode:lighten"/>
<rect x="1320.0" y="460.0" width="45.0" height="140.0" rx="8.0" fill="#404040" style="mix-blend-mode:lighten"/>
</g>
<g filter="url(#b2)">
<rect x="1082.5" y="427.0" width="52.5" height="207.0" rx="0.0" fill="#343434"/>
<rect x="770.0" y="504.0" width="135.0" height="9.0" rx="3.0" fill="#3c3c3c"/>
<rect x="770.0" y="533.0" width="135.0" height="7.0" rx="3.0" fill="#3c3c3c"/>
<rect x="905.0" y="505.0" width="135.0" height="8.0" rx="3.0" fill="#484848"/>
<rect x="905.0" y="533.0" width="135.0" height="6.0" rx="3.0" fill="#484848"/>
</g>
<rect x="1080.8" y="427" width="2" height="207" fill="#282828"/>
<g filter="url(#b3)" style="mix-blend-mode:lighten">
<rect x="447.2" y="445.5" width="31.0" height="70.0" rx="8.0" fill="#525252" style="mix-blend-mode:lighten"/>
<rect x="447.2" y="535.5" width="31.0" height="85.0" rx="8.0" fill="#525252" style="mix-blend-mode:lighten"/>
<rect x="700.7" y="441.6" width="31.0" height="67.4" rx="8.0" fill="#565656" style="mix-blend-mode:lighten"/>
<rect x="700.7" y="535.5" width="31.0" height="80.5" rx="8.0" fill="#565656" style="mix-blend-mode:lighten"/>
<rect x="843.1" y="442.6" width="26.0" height="66.4" rx="8.0" fill="#565656" style="mix-blend-mode:lighten"/>
<rect x="843.1" y="535.5" width="26.0" height="80.5" rx="8.0" fill="#565656" style="mix-blend-mode:lighten"/>
<rect x="895.1" y="440.6" width="28.6" height="67.7" rx="8.0" fill="#606060" style="mix-blend-mode:lighten"/>
<rect x="895.1" y="534.5" width="28.6" height="83.5" rx="8.0" fill="#606060" style="mix-blend-mode:lighten"/>
<rect x="1040.4" y="446.5" width="27.6" height="62.8" rx="8.0" fill="#5a5a5a" style="mix-blend-mode:lighten"/>
<rect x="1040.4" y="536.5" width="27.6" height="80.5" rx="8.0" fill="#5a5a5a" style="mix-blend-mode:lighten"/>
<rect x="1131.9" y="462.0" width="23.0" height="49.0" rx="8.0" fill="#565656" style="mix-blend-mode:lighten"/>
<rect x="1131.9" y="534.5" width="23.0" height="48.0" rx="8.0" fill="#565656" style="mix-blend-mode:lighten"/>
<rect x="1175.6" y="447.5" width="29.6" height="63.5" rx="8.0" fill="#5a5a5a" style="mix-blend-mode:lighten"/>
<rect x="1175.6" y="536.5" width="29.6" height="78.5" rx="8.0" fill="#5a5a5a" style="mix-blend-mode:lighten"/>
<rect x="1088.0" y="438.0" width="29.0" height="186.0" rx="12.0" fill="#6a6a6a" style="mix-blend-mode:lighten"/>
<rect x="1066.0" y="440.0" width="15.0" height="184.0" rx="6.0" fill="#646464" style="mix-blend-mode:lighten"/>
</g>
<g filter="url(#b15)" style="mix-blend-mode:lighten">
<ellipse cx="1348.0" cy="489.5" rx="9.4" ry="19.5" fill="#4d4d4d" style="mix-blend-mode:lighten"/>
<ellipse cx="1348.0" cy="489.5" rx="6.2" ry="14.5" fill="#555555" style="mix-blend-mode:lighten"/>
<ellipse cx="1348.0" cy="489.5" rx="3.3" ry="9.6" fill="#636363" style="mix-blend-mode:lighten"/>
<ellipse cx="1348.0" cy="565.0" rx="9.4" ry="21.0" fill="#4d4d4d" style="mix-blend-mode:lighten"/>
<ellipse cx="1348.0" cy="565.0" rx="6.2" ry="16.0" fill="#555555" style="mix-blend-mode:lighten"/>
<ellipse cx="1348.0" cy="565.0" rx="3.3" ry="10.5" fill="#636363" style="mix-blend-mode:lighten"/>
<ellipse cx="522.5" cy="484.0" rx="5.9" ry="26.0" fill="#515151" style="mix-blend-mode:lighten"/>
<ellipse cx="522.5" cy="484.0" rx="2.7" ry="21.0" fill="#595959" style="mix-blend-mode:lighten"/>
<ellipse cx="522.5" cy="484.0" rx="1.4" ry="13.6" fill="#676767" style="mix-blend-mode:lighten"/>
<ellipse cx="522.5" cy="567.5" rx="5.9" ry="26.5" fill="#515151" style="mix-blend-mode:lighten"/>
<ellipse cx="522.5" cy="567.5" rx="2.7" ry="21.5" fill="#595959" style="mix-blend-mode:lighten"/>
<ellipse cx="522.5" cy="567.5" rx="1.4" ry="13.9" fill="#676767" style="mix-blend-mode:lighten"/>
<ellipse cx="680.0" cy="481.5" rx="5.9" ry="27.5" fill="#515151" style="mix-blend-mode:lighten"/>
<ellipse cx="680.0" cy="481.5" rx="2.7" ry="22.5" fill="#595959" style="mix-blend-mode:lighten"/>
<ellipse cx="680.0" cy="481.5" rx="1.4" ry="14.6" fill="#676767" style="mix-blend-mode:lighten"/>
<ellipse cx="680.0" cy="570.0" rx="5.9" ry="29.0" fill="#515151" style="mix-blend-mode:lighten"/>
<ellipse cx="680.0" cy="570.0" rx="2.7" ry="24.0" fill="#595959" style="mix-blend-mode:lighten"/>
<ellipse cx="680.0" cy="570.0" rx="1.4" ry="15.5" fill="#676767" style="mix-blend-mode:lighten"/>
<ellipse cx="760.2" cy="488.5" rx="5.9" ry="20.5" fill="#535353" style="mix-blend-mode:lighten"/>
<ellipse cx="760.2" cy="488.5" rx="2.7" ry="15.5" fill="#5b5b5b" style="mix-blend-mode:lighten"/>
<ellipse cx="760.2" cy="488.5" rx="1.4" ry="10.2" fill="#696969" style="mix-blend-mode:lighten"/>
<ellipse cx="760.2" cy="558.3" rx="5.9" ry="25.7" fill="#535353" style="mix-blend-mode:lighten"/>
<ellipse cx="760.2" cy="558.3" rx="2.7" ry="20.7" fill="#5b5b5b" style="mix-blend-mode:lighten"/>
<ellipse cx="760.2" cy="558.3" rx="1.4" ry="13.5" fill="#696969" style="mix-blend-mode:lighten"/>
<ellipse cx="826.0" cy="479.0" rx="9.4" ry="28.0" fill="#535353" style="mix-blend-mode:lighten"/>
<ellipse cx="826.0" cy="479.0" rx="6.2" ry="23.0" fill="#5b5b5b" style="mix-blend-mode:lighten"/>
<ellipse cx="826.0" cy="479.0" rx="3.3" ry="14.9" fill="#696969" style="mix-blend-mode:lighten"/>
<ellipse cx="826.0" cy="570.5" rx="9.4" ry="33.5" fill="#535353" style="mix-blend-mode:lighten"/>
<ellipse cx="826.0" cy="570.5" rx="6.2" ry="28.5" fill="#5b5b5b" style="mix-blend-mode:lighten"/>
<ellipse cx="826.0" cy="570.5" rx="3.3" ry="18.3" fill="#696969" style="mix-blend-mode:lighten"/>
<ellipse cx="1013.0" cy="485.5" rx="7.4" ry="23.5" fill="#575757" style="mix-blend-mode:lighten"/>
<ellipse cx="1013.0" cy="485.5" rx="4.2" ry="18.5" fill="#5f5f5f" style="mix-blend-mode:lighten"/>
<ellipse cx="1013.0" cy="485.5" rx="2.2" ry="12.1" fill="#6d6d6d" style="mix-blend-mode:lighten"/>
<ellipse cx="1013.0" cy="560.0" rx="7.4" ry="20.0" fill="#575757" style="mix-blend-mode:lighten"/>
<ellipse cx="1013.0" cy="560.0" rx="4.2" ry="15.0" fill="#5f5f5f" style="mix-blend-mode:lighten"/>
<ellipse cx="1013.0" cy="560.0" rx="2.2" ry="9.9" fill="#6d6d6d" style="mix-blend-mode:lighten"/>
<ellipse cx="1306.0" cy="488.5" rx="6.9" ry="20.5" fill="#595959" style="mix-blend-mode:lighten"/>
<ellipse cx="1306.0" cy="488.5" rx="3.7" ry="15.5" fill="#616161" style="mix-blend-mode:lighten"/>
<ellipse cx="1306.0" cy="488.5" rx="1.9" ry="10.2" fill="#6f6f6f" style="mix-blend-mode:lighten"/>
<ellipse cx="1306.0" cy="564.0" rx="6.9" ry="22.0" fill="#595959" style="mix-blend-mode:lighten"/>
<ellipse cx="1306.0" cy="564.0" rx="3.7" ry="17.0" fill="#616161" style="mix-blend-mode:lighten"/>
<ellipse cx="1306.0" cy="564.0" rx="1.9" ry="11.2" fill="#6f6f6f" style="mix-blend-mode:lighten"/>
<ellipse cx="1248.0" cy="487.0" rx="9.4" ry="23.0" fill="#606060" style="mix-blend-mode:lighten"/>
<ellipse cx="1248.0" cy="487.0" rx="6.2" ry="18.0" fill="#686868" style="mix-blend-mode:lighten"/>
<ellipse cx="1248.0" cy="487.0" rx="3.3" ry="11.8" fill="#767676" style="mix-blend-mode:lighten"/>
<ellipse cx="1248.0" cy="562.5" rx="9.4" ry="25.5" fill="#606060" style="mix-blend-mode:lighten"/>
<ellipse cx="1248.0" cy="562.5" rx="6.2" ry="20.5" fill="#686868" style="mix-blend-mode:lighten"/>
<ellipse cx="1248.0" cy="562.5" rx="3.3" ry="13.3" fill="#767676" style="mix-blend-mode:lighten"/>
<ellipse cx="696.0" cy="483.5" rx="10.4" ry="25.5" fill="#616161" style="mix-blend-mode:lighten"/>
<ellipse cx="696.0" cy="483.5" rx="7.2" ry="20.5" fill="#696969" style="mix-blend-mode:lighten"/>
<ellipse cx="696.0" cy="483.5" rx="3.9" ry="13.3" fill="#777777" style="mix-blend-mode:lighten"/>
<ellipse cx="696.0" cy="561.2" rx="10.4" ry="26.8" fill="#616161" style="mix-blend-mode:lighten"/>
<ellipse cx="696.0" cy="561.2" rx="7.2" ry="21.8" fill="#696969" style="mix-blend-mode:lighten"/>
<ellipse cx="696.0" cy="561.2" rx="3.9" ry="14.1" fill="#777777" style="mix-blend-mode:lighten"/>
<ellipse cx="1294.0" cy="487.0" rx="7.9" ry="25.0" fill="#666666" style="mix-blend-mode:lighten"/>
<ellipse cx="1294.0" cy="487.0" rx="4.7" ry="20.0" fill="#6e6e6e" style="mix-blend-mode:lighten"/>
<ellipse cx="1294.0" cy="487.0" rx="2.5" ry="13.0" fill="#7c7c7c" style="mix-blend-mode:lighten"/>
<ellipse cx="1294.0" cy="564.0" rx="7.9" ry="28.0" fill="#666666" style="mix-blend-mode:lighten"/>
<ellipse cx="1294.0" cy="564.0" rx="4.7" ry="23.0" fill="#6e6e6e" style="mix-blend-mode:lighten"/>
<ellipse cx="1294.0" cy="564.0" rx="2.5" ry="14.9" fill="#7c7c7c" style="mix-blend-mode:lighten"/>
<ellipse cx="891.7" cy="485.5" rx="8.4" ry="19.5" fill="#606060" style="mix-blend-mode:lighten"/>
<ellipse cx="891.7" cy="485.5" rx="5.2" ry="14.5" fill="#757575" style="mix-blend-mode:lighten"/>
<ellipse cx="891.7" cy="485.5" rx="2.8" ry="9.6" fill="#838383" style="mix-blend-mode:lighten"/>
<ellipse cx="891.7" cy="564.0" rx="8.4" ry="16.0" fill="#606060" style="mix-blend-mode:lighten"/>
<ellipse cx="891.7" cy="564.0" rx="5.2" ry="11.0" fill="#757575" style="mix-blend-mode:lighten"/>
<ellipse cx="891.7" cy="564.0" rx="2.8" ry="7.4" fill="#838383" style="mix-blend-mode:lighten"/>
<ellipse cx="789.6" cy="486.0" rx="11.9" ry="21.0" fill="#616161" style="mix-blend-mode:lighten"/>
<ellipse cx="789.6" cy="486.0" rx="8.7" ry="16.0" fill="#767676" style="mix-blend-mode:lighten"/>
<ellipse cx="789.6" cy="486.0" rx="4.7" ry="10.5" fill="#848484" style="mix-blend-mode:lighten"/>
<ellipse cx="789.6" cy="561.0" rx="11.9" ry="20.7" fill="#616161" style="mix-blend-mode:lighten"/>
<ellipse cx="789.6" cy="561.0" rx="8.7" ry="15.7" fill="#767676" style="mix-blend-mode:lighten"/>
<ellipse cx="789.6" cy="561.0" rx="4.7" ry="10.3" fill="#848484" style="mix-blend-mode:lighten"/>
<ellipse cx="932.8" cy="483.5" rx="7.9" ry="23.5" fill="#626262" style="mix-blend-mode:lighten"/>
<ellipse cx="932.8" cy="483.5" rx="4.7" ry="18.5" fill="#777777" style="mix-blend-mode:lighten"/>
<ellipse cx="932.8" cy="483.5" rx="2.5" ry="12.1" fill="#858585" style="mix-blend-mode:lighten"/>
<ellipse cx="932.8" cy="559.2" rx="7.9" ry="22.8" fill="#626262" style="mix-blend-mode:lighten"/>
<ellipse cx="932.8" cy="559.2" rx="4.7" ry="17.8" fill="#777777" style="mix-blend-mode:lighten"/>
<ellipse cx="932.8" cy="559.2" rx="2.5" ry="11.6" fill="#858585" style="mix-blend-mode:lighten"/>
<ellipse cx="986.7" cy="485.0" rx="8.4" ry="21.0" fill="#626262" style="mix-blend-mode:lighten"/>
<ellipse cx="986.7" cy="485.0" rx="5.2" ry="16.0" fill="#777777" style="mix-blend-mode:lighten"/>
<ellipse cx="986.7" cy="485.0" rx="2.8" ry="10.5" fill="#858585" style="mix-blend-mode:lighten"/>
<ellipse cx="986.7" cy="559.2" rx="8.4" ry="22.8" fill="#626262" style="mix-blend-mode:lighten"/>
<ellipse cx="986.7" cy="559.2" rx="5.2" ry="17.8" fill="#777777" style="mix-blend-mode:lighten"/>
<ellipse cx="986.7" cy="559.2" rx="2.8" ry="11.6" fill="#858585" style="mix-blend-mode:lighten"/>
<rect x="537.8" y="497.0" width="4.6" height="49.5" rx="0.0" fill="#6a6a6a" style="mix-blend-mode:lighten"/>
<ellipse cx="540.1" cy="480.5" rx="7.9" ry="28.5" fill="#666666" style="mix-blend-mode:lighten"/>
<ellipse cx="540.1" cy="480.5" rx="4.7" ry="23.5" fill="#7b7b7b" style="mix-blend-mode:lighten"/>
<ellipse cx="540.1" cy="480.5" rx="2.5" ry="15.2" fill="#898989" style="mix-blend-mode:lighten"/>
<ellipse cx="540.1" cy="565.8" rx="7.9" ry="31.2" fill="#666666" style="mix-blend-mode:lighten"/>
<ellipse cx="540.1" cy="565.8" rx="4.7" ry="26.2" fill="#7b7b7b" style="mix-blend-mode:lighten"/>
<ellipse cx="540.1" cy="565.8" rx="2.5" ry="16.9" fill="#898989" style="mix-blend-mode:lighten"/>
<rect x="645.4" y="495.0" width="4.6" height="55.0" rx="0.0" fill="#6a6a6a" style="mix-blend-mode:lighten"/>
<ellipse cx="647.7" cy="481.5" rx="6.9" ry="25.5" fill="#686868" style="mix-blend-mode:lighten"/>
<ellipse cx="647.7" cy="481.5" rx="3.7" ry="20.5" fill="#7f7f7f" style="mix-blend-mode:lighten"/>
<ellipse cx="647.7" cy="481.5" rx="1.9" ry="13.3" fill="#8d8d8d" style="mix-blend-mode:lighten"/>
<ellipse cx="647.7" cy="562.8" rx="6.9" ry="24.8" fill="#686868" style="mix-blend-mode:lighten"/>
<ellipse cx="647.7" cy="562.8" rx="3.7" ry="19.8" fill="#7f7f7f" style="mix-blend-mode:lighten"/>
<ellipse cx="647.7" cy="562.8" rx="1.9" ry="12.9" fill="#8d8d8d" style="mix-blend-mode:lighten"/>
<ellipse cx="948.5" cy="483.5" rx="6.9" ry="29.5" fill="#686868" style="mix-blend-mode:lighten"/>
<ellipse cx="948.5" cy="483.5" rx="3.7" ry="24.5" fill="#7f7f7f" style="mix-blend-mode:lighten"/>
<ellipse cx="948.5" cy="483.5" rx="1.9" ry="15.8" fill="#8d8d8d" style="mix-blend-mode:lighten"/>
<ellipse cx="948.5" cy="560.8" rx="6.9" ry="28.2" fill="#686868" style="mix-blend-mode:lighten"/>
<ellipse cx="948.5" cy="560.8" rx="3.7" ry="23.2" fill="#7f7f7f" style="mix-blend-mode:lighten"/>
<ellipse cx="948.5" cy="560.8" rx="1.9" ry="15.0" fill="#8d8d8d" style="mix-blend-mode:lighten"/>
<rect x="606.3" y="497.0" width="4.6" height="49.5" rx="0.0" fill="#6c6c6c" style="mix-blend-mode:lighten"/>
<ellipse cx="608.6" cy="483.5" rx="8.4" ry="25.5" fill="#686868" style="mix-blend-mode:lighten"/>
<ellipse cx="608.6" cy="483.5" rx="5.2" ry="20.5" fill="#818181" style="mix-blend-mode:lighten"/>
<ellipse cx="608.6" cy="483.5" rx="2.8" ry="13.3" fill="#8f8f8f" style="mix-blend-mode:lighten"/>
<ellipse cx="608.6" cy="564.8" rx="8.4" ry="30.2" fill="#686868" style="mix-blend-mode:lighten"/>
<ellipse cx="608.6" cy="564.8" rx="5.2" ry="25.2" fill="#818181" style="mix-blend-mode:lighten"/>
<ellipse cx="608.6" cy="564.8" rx="2.8" ry="16.3" fill="#8f8f8f" style="mix-blend-mode:lighten"/>
<rect x="630.7" y="497.0" width="4.6" height="49.0" rx="0.0" fill="#6c6c6c" style="mix-blend-mode:lighten"/>
<ellipse cx="633.0" cy="480.5" rx="8.9" ry="28.5" fill="#686868" style="mix-blend-mode:lighten"/>
<ellipse cx="633.0" cy="480.5" rx="5.7" ry="23.5" fill="#818181" style="mix-blend-mode:lighten"/>
<ellipse cx="633.0" cy="480.5" rx="3.0" ry="15.2" fill="#8f8f8f" style="mix-blend-mode:lighten"/>
<ellipse cx="633.0" cy="563.5" rx="8.9" ry="29.5" fill="#686868" style="mix-blend-mode:lighten"/>
<ellipse cx="633.0" cy="563.5" rx="5.7" ry="24.5" fill="#818181" style="mix-blend-mode:lighten"/>
<ellipse cx="633.0" cy="563.5" rx="3.0" ry="15.8" fill="#8f8f8f" style="mix-blend-mode:lighten"/>
<rect x="580.3" y="499.0" width="4.6" height="45.6" rx="0.0" fill="#747474" style="mix-blend-mode:lighten"/>
<ellipse cx="582.6" cy="482.5" rx="8.4" ry="28.5" fill="#686868" style="mix-blend-mode:lighten"/>
<ellipse cx="582.6" cy="482.5" rx="5.2" ry="23.5" fill="#858585" style="mix-blend-mode:lighten"/>
<ellipse cx="582.6" cy="482.5" rx="2.8" ry="15.2" fill="#939393" style="mix-blend-mode:lighten"/>
<ellipse cx="582.6" cy="564.8" rx="8.4" ry="32.2" fill="#686868" style="mix-blend-mode:lighten"/>
<ellipse cx="582.6" cy="564.8" rx="5.2" ry="27.2" fill="#858585" style="mix-blend-mode:lighten"/>
<ellipse cx="582.6" cy="564.8" rx="2.8" ry="17.5" fill="#939393" style="mix-blend-mode:lighten"/>
<ellipse cx="962.2" cy="482.5" rx="8.9" ry="28.5" fill="#686868" style="mix-blend-mode:lighten"/>
<ellipse cx="962.2" cy="482.5" rx="5.7" ry="23.5" fill="#858585" style="mix-blend-mode:lighten"/>
<ellipse cx="962.2" cy="482.5" rx="3.0" ry="15.2" fill="#939393" style="mix-blend-mode:lighten"/>
<ellipse cx="962.2" cy="559.8" rx="8.9" ry="27.2" fill="#686868" style="mix-blend-mode:lighten"/>
<ellipse cx="962.2" cy="559.8" rx="5.7" ry="22.2" fill="#858585" style="mix-blend-mode:lighten"/>
<ellipse cx="962.2" cy="559.8" rx="3.0" ry="14.4" fill="#939393" style="mix-blend-mode:lighten"/>
<rect x="1076.2" y="503.0" width="4.6" height="41.0" rx="0.0" fill="#8c8c8c" style="mix-blend-mode:lighten"/>
<ellipse cx="1078.5" cy="487.5" rx="6.8" ry="27.5" fill="#686868" style="mix-blend-mode:lighten"/>
<ellipse cx="1078.5" cy="487.5" rx="3.6" ry="22.5" fill="#878787" style="mix-blend-mode:lighten"/>
<ellipse cx="1078.5" cy="487.5" rx="1.9" ry="14.6" fill="#959595" style="mix-blend-mode:lighten"/>
<ellipse cx="1078.5" cy="559.0" rx="6.8" ry="27.0" fill="#686868" style="mix-blend-mode:lighten"/>
<ellipse cx="1078.5" cy="559.0" rx="3.6" ry="22.0" fill="#878787" style="mix-blend-mode:lighten"/>
<ellipse cx="1078.5" cy="559.0" rx="1.9" ry="14.3" fill="#959595" style="mix-blend-mode:lighten"/>
<rect x="559.3" y="503.0" width="4.6" height="37.7" rx="0.0" fill="#808080" style="mix-blend-mode:lighten"/>
<ellipse cx="561.6" cy="481.5" rx="8.9" ry="33.5" fill="#686868" style="mix-blend-mode:lighten"/>
<ellipse cx="561.6" cy="481.5" rx="5.7" ry="28.5" fill="#8f8f8f" style="mix-blend-mode:lighten"/>
<ellipse cx="561.6" cy="481.5" rx="3.0" ry="18.3" fill="#9d9d9d" style="mix-blend-mode:lighten"/>
<ellipse cx="561.6" cy="564.9" rx="8.9" ry="36.1" fill="#686868" style="mix-blend-mode:lighten"/>
<ellipse cx="561.6" cy="564.9" rx="5.7" ry="31.1" fill="#8f8f8f" style="mix-blend-mode:lighten"/>
<ellipse cx="561.6" cy="564.9" rx="3.0" ry="19.9" fill="#9d9d9d" style="mix-blend-mode:lighten"/>
</g>
<g filter="url(#b2)" style="mix-blend-mode:lighten">
<rect x="656.8" y="511.0" width="18.2" height="134.0" rx="7.0" fill="#767676" style="mix-blend-mode:lighten"/>
<rect x="659.0" y="514.0" width="14.0" height="131.0" rx="6.0" fill="#878787" style="mix-blend-mode:lighten"/>
<rect x="661.0" y="455.0" width="11.0" height="65.0" rx="5.0" fill="#646464" style="mix-blend-mode:lighten"/>
</g>
<g filter="url(#b2)" style="mix-blend-mode:lighten">
<path d="M768,523 L1081,523.5" stroke="#676767" stroke-width="14" fill="none" stroke-linecap="round"/>
<path d="M800,523 L1081,523.5" stroke="#767676" stroke-width="10.5" fill="none" stroke-linecap="round"/>
<path d="M918,523.5 L1081,523.5" stroke="#8a8a8a" stroke-width="9" fill="none"/>
<path d="M1136,525 L1290,525.5 Q1335,527 1366,536.5" stroke="#686868" stroke-width="14" fill="none"/>
<path d="M1136,525 L1200,525 M1222,525.3 L1290,525.5 Q1335,527 1366,536.5" stroke="#7c7c7c" stroke-width="9" fill="none"/>
</g>
<g filter="url(#b1)" style="mix-blend-mode:lighten">
<rect x="852.6" y="500.0" width="7.0" height="44.5" rx="0.0" fill="#646464" style="mix-blend-mode:lighten"/>
<rect x="854.1" y="500.0" width="4.0" height="44.5" rx="0.0" fill="#7d7d7d" style="mix-blend-mode:lighten"/>
<rect x="846.6" y="445.1" width="19.0" height="61.4" rx="9.5" fill="#646464" style="mix-blend-mode:lighten"/>
<rect x="848.1" y="446.6" width="16.0" height="58.4" rx="8.5" fill="#747474" style="mix-blend-mode:lighten"/>
<rect x="849.7" y="448.2" width="12.8" height="55.2" rx="7.5" fill="#848484" style="mix-blend-mode:lighten"/>
<rect x="846.6" y="538.0" width="19.0" height="75.5" rx="9.5" fill="#646464" style="mix-blend-mode:lighten"/>
<rect x="848.1" y="539.5" width="16.0" height="72.5" rx="8.5" fill="#747474" style="mix-blend-mode:lighten"/>
<rect x="849.7" y="541.1" width="12.8" height="69.3" rx="7.5" fill="#848484" style="mix-blend-mode:lighten"/>
<rect x="1140.4" y="502.0" width="6.0" height="41.5" rx="0.0" fill="#646464" style="mix-blend-mode:lighten"/>
<rect x="1141.9" y="502.0" width="3.0" height="41.5" rx="0.0" fill="#848484" style="mix-blend-mode:lighten"/>
<rect x="1135.4" y="464.5" width="16.0" height="44.0" rx="9.5" fill="#646464" style="mix-blend-mode:lighten"/>
<rect x="1136.9" y="466.0" width="13.0" height="41.0" rx="8.5" fill="#787878" style="mix-blend-mode:lighten"/>
<rect x="1138.5" y="467.6" width="9.8" height="37.8" rx="7.5" fill="#888888" style="mix-blend-mode:lighten"/>
<rect x="1135.4" y="537.0" width="16.0" height="43.0" rx="9.5" fill="#646464" style="mix-blend-mode:lighten"/>
<rect x="1136.9" y="538.5" width="13.0" height="40.0" rx="8.5" fill="#787878" style="mix-blend-mode:lighten"/>
<rect x="1138.5" y="540.1" width="9.8" height="36.8" rx="7.5" fill="#888888" style="mix-blend-mode:lighten"/>
<rect x="1050.7" y="500.3" width="7.0" height="45.2" rx="0.0" fill="#686868" style="mix-blend-mode:lighten"/>
<rect x="1052.2" y="500.3" width="4.0" height="45.2" rx="0.0" fill="#7d7d7d" style="mix-blend-mode:lighten"/>
<rect x="1043.9" y="449.0" width="20.6" height="57.8" rx="9.5" fill="#686868" style="mix-blend-mode:lighten"/>
<rect x="1045.4" y="450.5" width="17.6" height="54.8" rx="8.5" fill="#7a7a7a" style="mix-blend-mode:lighten"/>
<rect x="1047.0" y="452.1" width="14.4" height="51.6" rx="7.5" fill="#8a8a8a" style="mix-blend-mode:lighten"/>
<rect x="1043.9" y="539.0" width="20.6" height="75.5" rx="9.5" fill="#686868" style="mix-blend-mode:lighten"/>
<rect x="1045.4" y="540.5" width="17.6" height="72.5" rx="8.5" fill="#7a7a7a" style="mix-blend-mode:lighten"/>
<rect x="1047.0" y="542.1" width="14.4" height="69.3" rx="7.5" fill="#8a8a8a" style="mix-blend-mode:lighten"/>
<rect x="712.7" y="500.0" width="7.0" height="44.5" rx="0.0" fill="#646464" style="mix-blend-mode:lighten"/>
<rect x="714.2" y="500.0" width="4.0" height="44.5" rx="0.0" fill="#848484" style="mix-blend-mode:lighten"/>
<rect x="704.2" y="444.1" width="24.0" height="62.4" rx="9.5" fill="#646464" style="mix-blend-mode:lighten"/>
<rect x="705.7" y="445.6" width="21.0" height="59.4" rx="8.5" fill="#7c7c7c" style="mix-blend-mode:lighten"/>
<rect x="707.3" y="447.2" width="17.8" height="56.2" rx="7.5" fill="#8c8c8c" style="mix-blend-mode:lighten"/>
<rect x="704.2" y="538.0" width="24.0" height="75.5" rx="9.5" fill="#646464" style="mix-blend-mode:lighten"/>
<rect x="705.7" y="539.5" width="21.0" height="72.5" rx="8.5" fill="#7c7c7c" style="mix-blend-mode:lighten"/>
<rect x="707.3" y="541.1" width="17.8" height="69.3" rx="7.5" fill="#8c8c8c" style="mix-blend-mode:lighten"/>
<rect x="1185.9" y="502.0" width="9.0" height="43.5" rx="0.0" fill="#686868" style="mix-blend-mode:lighten"/>
<rect x="1187.4" y="502.0" width="6.0" height="43.5" rx="0.0" fill="#8c8c8c" style="mix-blend-mode:lighten"/>
<rect x="1179.1" y="450.0" width="22.6" height="58.5" rx="9.5" fill="#686868" style="mix-blend-mode:lighten"/>
<rect x="1180.6" y="451.5" width="19.6" height="55.5" rx="8.5" fill="#929292" style="mix-blend-mode:lighten"/>
<rect x="1182.2" y="453.1" width="16.4" height="52.3" rx="7.5" fill="#a2a2a2" style="mix-blend-mode:lighten"/>
<rect x="1179.1" y="539.0" width="22.6" height="73.5" rx="9.5" fill="#686868" style="mix-blend-mode:lighten"/>
<rect x="1180.6" y="540.5" width="19.6" height="70.5" rx="8.5" fill="#929292" style="mix-blend-mode:lighten"/>
<rect x="1182.2" y="542.1" width="16.4" height="67.3" rx="7.5" fill="#a2a2a2" style="mix-blend-mode:lighten"/>
<rect x="459.2" y="506.5" width="7.0" height="38.0" rx="0.0" fill="#606060" style="mix-blend-mode:lighten"/>
<rect x="460.7" y="506.5" width="4.0" height="38.0" rx="0.0" fill="#828282" style="mix-blend-mode:lighten"/>
<rect x="450.7" y="448.0" width="24.0" height="65.0" rx="9.5" fill="#606060" style="mix-blend-mode:lighten"/>
<rect x="452.2" y="449.5" width="21.0" height="62.0" rx="8.5" fill="#a0a0a0" style="mix-blend-mode:lighten"/>
<rect x="453.8" y="451.1" width="17.8" height="58.8" rx="7.5" fill="#b0b0b0" style="mix-blend-mode:lighten"/>
<rect x="450.7" y="538.0" width="24.0" height="80.0" rx="9.5" fill="#606060" style="mix-blend-mode:lighten"/>
<rect x="452.2" y="539.5" width="21.0" height="77.0" rx="8.5" fill="#a0a0a0" style="mix-blend-mode:lighten"/>
<rect x="453.8" y="541.1" width="17.8" height="73.8" rx="7.5" fill="#b0b0b0" style="mix-blend-mode:lighten"/>
<rect x="906.4" y="499.3" width="6.0" height="44.2" rx="0.0" fill="#6e6e6e" style="mix-blend-mode:lighten"/>
<rect x="907.9" y="499.3" width="3.0" height="44.2" rx="0.0" fill="#bebebe" style="mix-blend-mode:lighten"/>
<rect x="898.6" y="443.1" width="21.6" height="62.7" rx="9.5" fill="#6e6e6e" style="mix-blend-mode:lighten"/>
<rect x="900.1" y="444.6" width="18.6" height="59.7" rx="8.5" fill="#969696" style="mix-blend-mode:lighten"/>
<rect x="901.7" y="446.2" width="15.4" height="56.5" rx="7.5" fill="#bababa" style="mix-blend-mode:lighten"/>
<rect x="898.6" y="537.0" width="21.6" height="78.5" rx="9.5" fill="#6e6e6e" style="mix-blend-mode:lighten"/>
<rect x="900.1" y="538.5" width="18.6" height="75.5" rx="8.5" fill="#969696" style="mix-blend-mode:lighten"/>
<rect x="901.7" y="540.1" width="15.4" height="72.3" rx="7.5" fill="#bababa" style="mix-blend-mode:lighten"/>
</g>
<g filter="url(#b2)" style="mix-blend-mode:lighten">
<ellipse cx="462.7" cy="480.5" rx="6.5" ry="26.0" fill="#b8b8b8" style="mix-blend-mode:lighten"/>
<ellipse cx="463.2" cy="480.5" rx="4.0" ry="17.1" fill="#bfbfbf" style="mix-blend-mode:lighten"/>
<ellipse cx="462.7" cy="578.0" rx="6.5" ry="33.5" fill="#b8b8b8" style="mix-blend-mode:lighten"/>
<ellipse cx="463.2" cy="582.0" rx="4.0" ry="21.2" fill="#bfbfbf" style="mix-blend-mode:lighten"/>
<ellipse cx="716.2" cy="475.3" rx="6.5" ry="24.7" fill="#949494" style="mix-blend-mode:lighten"/>
<ellipse cx="716.7" cy="475.3" rx="4.0" ry="16.3" fill="#9b9b9b" style="mix-blend-mode:lighten"/>
<ellipse cx="716.2" cy="575.8" rx="6.5" ry="31.2" fill="#949494" style="mix-blend-mode:lighten"/>
<ellipse cx="716.7" cy="579.8" rx="4.0" ry="19.9" fill="#9b9b9b" style="mix-blend-mode:lighten"/>
<ellipse cx="856.1" cy="475.8" rx="4.0" ry="24.2" fill="#8c8c8c" style="mix-blend-mode:lighten"/>
<ellipse cx="856.6" cy="475.8" rx="1.5" ry="16.1" fill="#939393" style="mix-blend-mode:lighten"/>
<ellipse cx="856.1" cy="575.8" rx="4.0" ry="31.2" fill="#8c8c8c" style="mix-blend-mode:lighten"/>
<ellipse cx="856.6" cy="579.8" rx="1.5" ry="19.9" fill="#939393" style="mix-blend-mode:lighten"/>
<ellipse cx="909.4" cy="474.5" rx="5.3" ry="24.8" fill="#bebebe" style="mix-blend-mode:lighten"/>
<ellipse cx="909.9" cy="474.5" rx="2.8" ry="16.4" fill="#c5c5c5" style="mix-blend-mode:lighten"/>
<ellipse cx="909.4" cy="576.2" rx="5.3" ry="32.8" fill="#bebebe" style="mix-blend-mode:lighten"/>
<ellipse cx="909.9" cy="580.2" rx="2.8" ry="20.8" fill="#c5c5c5" style="mix-blend-mode:lighten"/>
<ellipse cx="1054.2" cy="477.9" rx="4.8" ry="22.4" fill="#929292" style="mix-blend-mode:lighten"/>
<ellipse cx="1054.7" cy="477.9" rx="2.3" ry="15.1" fill="#999999" style="mix-blend-mode:lighten"/>
<ellipse cx="1054.2" cy="576.8" rx="4.8" ry="31.2" fill="#929292" style="mix-blend-mode:lighten"/>
<ellipse cx="1054.7" cy="580.8" rx="2.3" ry="19.9" fill="#999999" style="mix-blend-mode:lighten"/>
<ellipse cx="1143.4" cy="486.5" rx="2.5" ry="15.5" fill="#909090" style="mix-blend-mode:lighten"/>
<ellipse cx="1143.9" cy="486.5" rx="0.0" ry="11.3" fill="#979797" style="mix-blend-mode:lighten"/>
<ellipse cx="1143.4" cy="558.5" rx="2.5" ry="15.0" fill="#909090" style="mix-blend-mode:lighten"/>
<ellipse cx="1143.9" cy="562.5" rx="0.0" ry="11.0" fill="#979797" style="mix-blend-mode:lighten"/>
<ellipse cx="1190.4" cy="479.2" rx="5.8" ry="22.8" fill="#aaaaaa" style="mix-blend-mode:lighten"/>
<ellipse cx="1190.9" cy="479.2" rx="3.3" ry="15.3" fill="#b1b1b1" style="mix-blend-mode:lighten"/>
<ellipse cx="1190.4" cy="575.8" rx="5.8" ry="30.2" fill="#aaaaaa" style="mix-blend-mode:lighten"/>
<ellipse cx="1190.9" cy="579.8" rx="3.3" ry="19.4" fill="#b1b1b1" style="mix-blend-mode:lighten"/>
<rect x="901.8" y="446.6" width="15.2" height="55.7" rx="6.0" fill="#bababa" style="mix-blend-mode:lighten"/>
<rect x="904.2" y="450.6" width="10.4" height="46.7" rx="5.0" fill="#c0c0c0" style="mix-blend-mode:lighten"/>
<rect x="901.8" y="540.5" width="15.2" height="71.5" rx="6.0" fill="#bababa" style="mix-blend-mode:lighten"/>
<rect x="904.2" y="544.5" width="10.4" height="62.5" rx="5.0" fill="#c0c0c0" style="mix-blend-mode:lighten"/>
<ellipse cx="908.2" cy="474.0" rx="4.4" ry="20.0" fill="#d0d0d0" style="mix-blend-mode:lighten"/>
<ellipse cx="908.2" cy="566.0" rx="4.4" ry="23.0" fill="#d1d1d1" style="mix-blend-mode:lighten"/>
<ellipse cx="908.5" cy="592.0" rx="3.8" ry="14.0" fill="#cacaca" style="mix-blend-mode:lighten"/>
<ellipse cx="717.5" cy="480.0" rx="3.0" ry="14.0" fill="#a0a0a0" style="mix-blend-mode:lighten"/>
<ellipse cx="717.5" cy="567.0" rx="3.0" ry="14.0" fill="#a2a2a2" style="mix-blend-mode:lighten"/>
<ellipse cx="561.6" cy="478.0" rx="2.2" ry="10.0" fill="#a0a0a0" style="mix-blend-mode:lighten"/>
<ellipse cx="561.6" cy="571.0" rx="2.2" ry="10.0" fill="#a8a8a8" style="mix-blend-mode:lighten"/>
<ellipse cx="582.6" cy="571.0" rx="2.0" ry="8.0" fill="#9c9c9c" style="mix-blend-mode:lighten"/>
<ellipse cx="931.9" cy="524.0" rx="2.6" ry="3.2" fill="#a4a4a4" style="mix-blend-mode:lighten"/>
<ellipse cx="962.0" cy="524.0" rx="2.6" ry="3.2" fill="#a4a4a4" style="mix-blend-mode:lighten"/>
<ellipse cx="985.7" cy="524.0" rx="2.6" ry="3.2" fill="#a4a4a4" style="mix-blend-mode:lighten"/>
<ellipse cx="1002.3" cy="524.0" rx="2.6" ry="3.2" fill="#a4a4a4" style="mix-blend-mode:lighten"/>
<ellipse cx="1030.7" cy="524.0" rx="2.6" ry="3.2" fill="#a4a4a4" style="mix-blend-mode:lighten"/>
<ellipse cx="1047.3" cy="524.0" rx="2.6" ry="3.2" fill="#a4a4a4" style="mix-blend-mode:lighten"/>
<ellipse cx="1054.2" cy="524.0" rx="2.6" ry="3.2" fill="#a4a4a4" style="mix-blend-mode:lighten"/>
<ellipse cx="1062.0" cy="524.0" rx="2.6" ry="3.2" fill="#a4a4a4" style="mix-blend-mode:lighten"/>
<ellipse cx="1075.7" cy="524.0" rx="2.6" ry="3.2" fill="#a4a4a4" style="mix-blend-mode:lighten"/>
<ellipse cx="1143.4" cy="524.0" rx="2.6" ry="3.2" fill="#a4a4a4" style="mix-blend-mode:lighten"/>
<ellipse cx="1166.0" cy="524.0" rx="2.6" ry="3.2" fill="#a4a4a4" style="mix-blend-mode:lighten"/>
<ellipse cx="1150.0" cy="525.0" rx="14.0" ry="4.0" fill="#8c8c8c" style="mix-blend-mode:lighten"/>
<ellipse cx="1240.0" cy="525.4" rx="10.0" ry="3.6" fill="#848484" style="mix-blend-mode:lighten"/>
<ellipse cx="1275.0" cy="525.6" rx="9.0" ry="3.6" fill="#868686" style="mix-blend-mode:lighten"/>
<ellipse cx="1322.0" cy="528.0" rx="11.0" ry="4.2" fill="#8c8c8c" style="mix-blend-mode:lighten"/>
<ellipse cx="1350.0" cy="532.5" rx="9.0" ry="4.4" fill="#8e8e8e" style="mix-blend-mode:lighten"/>
</g>
<g filter="url(#b15)" style="mix-blend-mode:lighten">
<rect x="1089.9" y="446.5" width="24.8" height="62.0" rx="10.0" fill="#808080"/>
<rect x="1091.4" y="447.8" width="21.8" height="59.4" rx="9.0" fill="#bababa"/>
<rect x="1089.9" y="538.5" width="24.8" height="77.0" rx="10.0" fill="#808080"/>
<rect x="1091.4" y="539.8" width="21.8" height="74.4" rx="9.0" fill="#bababa"/>
<rect x="1096.3" y="500.0" width="12.0" height="48.0" rx="0.0" fill="#808080"/>
<rect x="1097.7" y="500.0" width="9.2" height="48.0" rx="0.0" fill="#bababa"/>
</g>
<g filter="url(#b1)">
<rect x="1093.6" y="449.5" width="17.4" height="57.5" rx="6.0" fill="#f3f3f3"/>
<rect x="1093.6" y="540.0" width="17.4" height="72.5" rx="6.0" fill="#f3f3f3"/>
<rect x="1099.0" y="500.0" width="6.6" height="48.0" rx="0.0" fill="#f3f3f3"/>
</g>
<g filter="url(#b05)">
<rect x="1094.6" y="454.4" width="15.4" height="50.6" rx="3.5" fill="#ffffff"/>
<rect x="1094.6" y="541.8" width="15.4" height="65.2" rx="3.5" fill="#ffffff"/>
<rect x="1101.2" y="500.0" width="2.4" height="48.0" rx="0.0" fill="#ffffff"/>
<rect x="1098.3" y="503.0" width="5.0" height="5.5" rx="0.0" fill="#ffffff"/>
<rect x="1101.3" y="538.5" width="6.0" height="4.5" rx="0.0" fill="#ffffff"/>
</g>
</g>
<rect x="345" y="426" width="54" height="208.3" fill="#000"/>
<rect x="1365.5" y="426" width="57" height="208.3" fill="#000"/>
</g>
<g stroke="#000" stroke-width="1.3" fill="none">
<path d="M340,426 H1428" stroke-width="2"/>
<path d="M340,633.5 H1428" stroke-width="1"/>
<path d="M340,632.9 H345 M1422.5,632.9 H1428 M340,628.6 H345 M1422.5,628.6 H1428 M340,624.3 H345 M1422.5,624.3 H1428 M340,620.0 H345 M1422.5,620.0 H1428 M334,615.7 H345 M1422.5,615.7 H1433 M340,611.4 H345 M1422.5,611.4 H1428 M340,607.1 H345 M1422.5,607.1 H1428 M340,602.8 H345 M1422.5,602.8 H1428 M340,598.5 H345 M1422.5,598.5 H1428 M340,594.1 H345 M1422.5,594.1 H1428 M340,589.8 H345 M1422.5,589.8 H1428 M340,585.5 H345 M1422.5,585.5 H1428 M340,581.2 H345 M1422.5,581.2 H1428 M340,576.9 H345 M1422.5,576.9 H1428 M334,572.6 H345 M1422.5,572.6 H1433 M340,568.3 H345 M1422.5,568.3 H1428 M340,564.0 H345 M1422.5,564.0 H1428 M340,559.7 H345 M1422.5,559.7 H1428 M340,555.4 H345 M1422.5,555.4 H1428 M340,551.0 H345 M1422.5,551.0 H1428 M340,546.7 H345 M1422.5,546.7 H1428 M340,542.4 H345 M1422.5,542.4 H1428 M340,538.1 H345 M1422.5,538.1 H1428 M340,533.8 H345 M1422.5,533.8 H1428 M334,529.5 H345 M1422.5,529.5 H1433 M340,525.2 H345 M1422.5,525.2 H1428 M340,520.9 H345 M1422.5,520.9 H1428 M340,516.6 H345 M1422.5,516.6 H1428 M340,512.3 H345 M1422.5,512.3 H1428 M340,507.9 H345 M1422.5,507.9 H1428 M340,503.6 H345 M1422.5,503.6 H1428 M340,499.3 H345 M1422.5,499.3 H1428 M340,495.0 H345 M1422.5,495.0 H1428 M340,490.7 H345 M1422.5,490.7 H1428 M334,486.4 H345 M1422.5,486.4 H1433 M340,482.1 H345 M1422.5,482.1 H1428 M340,477.8 H345 M1422.5,477.8 H1428 M340,473.5 H345 M1422.5,473.5 H1428 M340,469.2 H345 M1422.5,469.2 H1428 M340,464.9 H345 M1422.5,464.9 H1428 M340,460.5 H345 M1422.5,460.5 H1428 M340,456.2 H345 M1422.5,456.2 H1428 M340,451.9 H345 M1422.5,451.9 H1428 M340,447.6 H345 M1422.5,447.6 H1428 M334,443.3 H345 M1422.5,443.3 H1433 M340,439.0 H345 M1422.5,439.0 H1428 M340,434.7 H345 M1422.5,434.7 H1428 M340,430.4 H345 M1422.5,430.4 H1428"/>
<path d="M375.9,426.0 v-1.2 M375.9,633.8 v1.6 M426.8,426.0 v-1.2 M426.8,633.8 v1.6 M477.7,426.0 v-2.2 M477.7,633.8 v2.6 M528.6,426.0 v-1.2 M528.6,633.8 v1.6 M579.5,426.0 v-1.2 M579.5,633.8 v1.6 M630.3,426.0 v-1.2 M630.3,633.8 v1.6 M681.2,426.0 v-2.2 M681.2,633.8 v2.6 M732.1,426.0 v-1.2 M732.1,633.8 v1.6 M783.0,426.0 v-1.2 M783.0,633.8 v1.6 M833.8,426.0 v-1.2 M833.8,633.8 v1.6 M884.7,426.0 v-2.2 M884.7,633.8 v2.6 M935.6,426.0 v-1.2 M935.6,633.8 v1.6 M986.5,426.0 v-1.2 M986.5,633.8 v1.6 M1037.3,426.0 v-1.2 M1037.3,633.8 v1.6 M1088.2,426.0 v-2.2 M1088.2,633.8 v2.6 M1139.1,426.0 v-1.2 M1139.1,633.8 v1.6 M1190.0,426.0 v-1.2 M1190.0,633.8 v1.6 M1240.8,426.0 v-1.2 M1240.8,633.8 v1.6 M1291.7,426.0 v-2.2 M1291.7,633.8 v2.6 M1342.6,426.0 v-1.2 M1342.6,633.8 v1.6 M1393.5,426.0 v-1.2 M1393.5,633.8 v1.6" stroke-width="1.3"/>
</g>
<rect x="345" y="847" width="1077.4" height="36.5" fill="url(#cb)"/>
<rect x="1417.8" y="847" width="4.2" height="36.5" fill="#fff"/>
<rect x="345.5" y="847.5" width="1076.5" height="36" fill="none" stroke="#000" stroke-width="1"/>
<path d="M434.8,847 v3.5 M434.8,883.5 v-3.5 M524.6,847 v3.5 M524.6,883.5 v-3.5 M614.3,847 v3.5 M614.3,883.5 v-3.5 M704.1,847 v3.5 M704.1,883.5 v-3.5 M793.9,847 v3.5 M793.9,883.5 v-3.5 M883.7,847 v3.5 M883.7,883.5 v-3.5 M973.5,847 v3.5 M973.5,883.5 v-3.5 M1063.2,847 v3.5 M1063.2,883.5 v-3.5 M1153.0,847 v3.5 M1153.0,883.5 v-3.5 M1242.8,847 v3.5 M1242.8,883.5 v-3.5 M1332.6,847 v3.5 M1332.6,883.5 v-3.5" stroke="#000" stroke-width="1" fill="none"/>
<text id="t1" class="h" x="493.2" y="332.8" font-size="52.40" textLength="780.0" lengthAdjust="spacingAndGlyphs">1404160000−1404162359</text>
<text id="t2" class="h" x="587.2" y="388.4" font-size="52.40" textLength="588.8" lengthAdjust="spacingAndGlyphs">exp time 0589(min)</text>
<text id="y200" class="h" x="232.0" y="460.5" font-size="40.13" textLength="87.2" lengthAdjust="spacingAndGlyphs">200</text>
<text id="y100" class="h" x="235.0" y="503.2" font-size="40.13" textLength="84.2" lengthAdjust="spacingAndGlyphs">100</text>
<text id="y0" class="h" x="291.0" y="546.8" font-size="40.13" textLength="28.2" lengthAdjust="spacingAndGlyphs">0</text>
<text id="ym100" class="h" x="194.0" y="590.4" font-size="40.13" textLength="125.2" lengthAdjust="spacingAndGlyphs">−100</text>
<text id="ym200" class="h" x="194.0" y="633.1" font-size="40.13" textLength="125.2" lengthAdjust="spacingAndGlyphs">−200</text>
<text id="x600" class="h" x="432.0" y="701.6" font-size="40.13" textLength="89.2" lengthAdjust="spacingAndGlyphs">600</text>
<text id="x800" class="h" x="634.2" y="701.6" font-size="40.13" textLength="89.2" lengthAdjust="spacingAndGlyphs">800</text>
<text id="x1000" class="h" x="821.0" y="701.6" font-size="40.13" textLength="121.0" lengthAdjust="spacingAndGlyphs">1000</text>
<text id="x1200" class="h" x="1024.5" y="701.6" font-size="40.13" textLength="121.0" lengthAdjust="spacingAndGlyphs">1200</text>
<text id="x1400" class="h" x="1228.0" y="701.6" font-size="40.13" textLength="121.0" lengthAdjust="spacingAndGlyphs">1400</text>
<text id="xt" class="h" x="627.0" y="760.2" font-size="43.19" textLength="513.0" lengthAdjust="spacingAndGlyphs">Wavelength(Angstrom)</text>
<g transform="translate(153.8,781.0) rotate(-90)" id="yt"><text class="h" x="0" y="0" font-size="43.19" textLength="503.0" lengthAdjust="spacingAndGlyphs">Angle of View(arcsec)</text></g>
<text id="ct" class="s" x="751.3" y="837.4" font-size="21.40" textLength="263.5" lengthAdjust="spacingAndGlyphs">log10([Rayleigh/pixel])</text>
<text id="c0" class="s" x="320.0" y="911.0" font-size="17.60" textLength="42.0" lengthAdjust="spacingAndGlyphs">−3.5</text>
<text id="c1" class="s" x="499.0" y="911.0" font-size="17.60" textLength="42.0" lengthAdjust="spacingAndGlyphs">−2.8</text>
<text id="c2" class="s" x="675.4" y="911.0" font-size="17.60" textLength="42.0" lengthAdjust="spacingAndGlyphs">−2.1</text>
<text id="c3" class="s" x="858.0" y="911.0" font-size="17.60" textLength="42.0" lengthAdjust="spacingAndGlyphs">−1.4</text>
<text id="c4" class="s" x="1037.2" y="911.0" font-size="17.60" textLength="42.0" lengthAdjust="spacingAndGlyphs">−0.8</text>
<text id="c5" class="s" x="1215.9" y="911.0" font-size="17.60" textLength="42.0" lengthAdjust="spacingAndGlyphs">−0.1</text>
<text id="c6" class="s" x="1396.2" y="911.0" font-size="17.60" textLength="42.0" lengthAdjust="spacingAndGlyphs">+0.6</text>
</svg></body></html>
